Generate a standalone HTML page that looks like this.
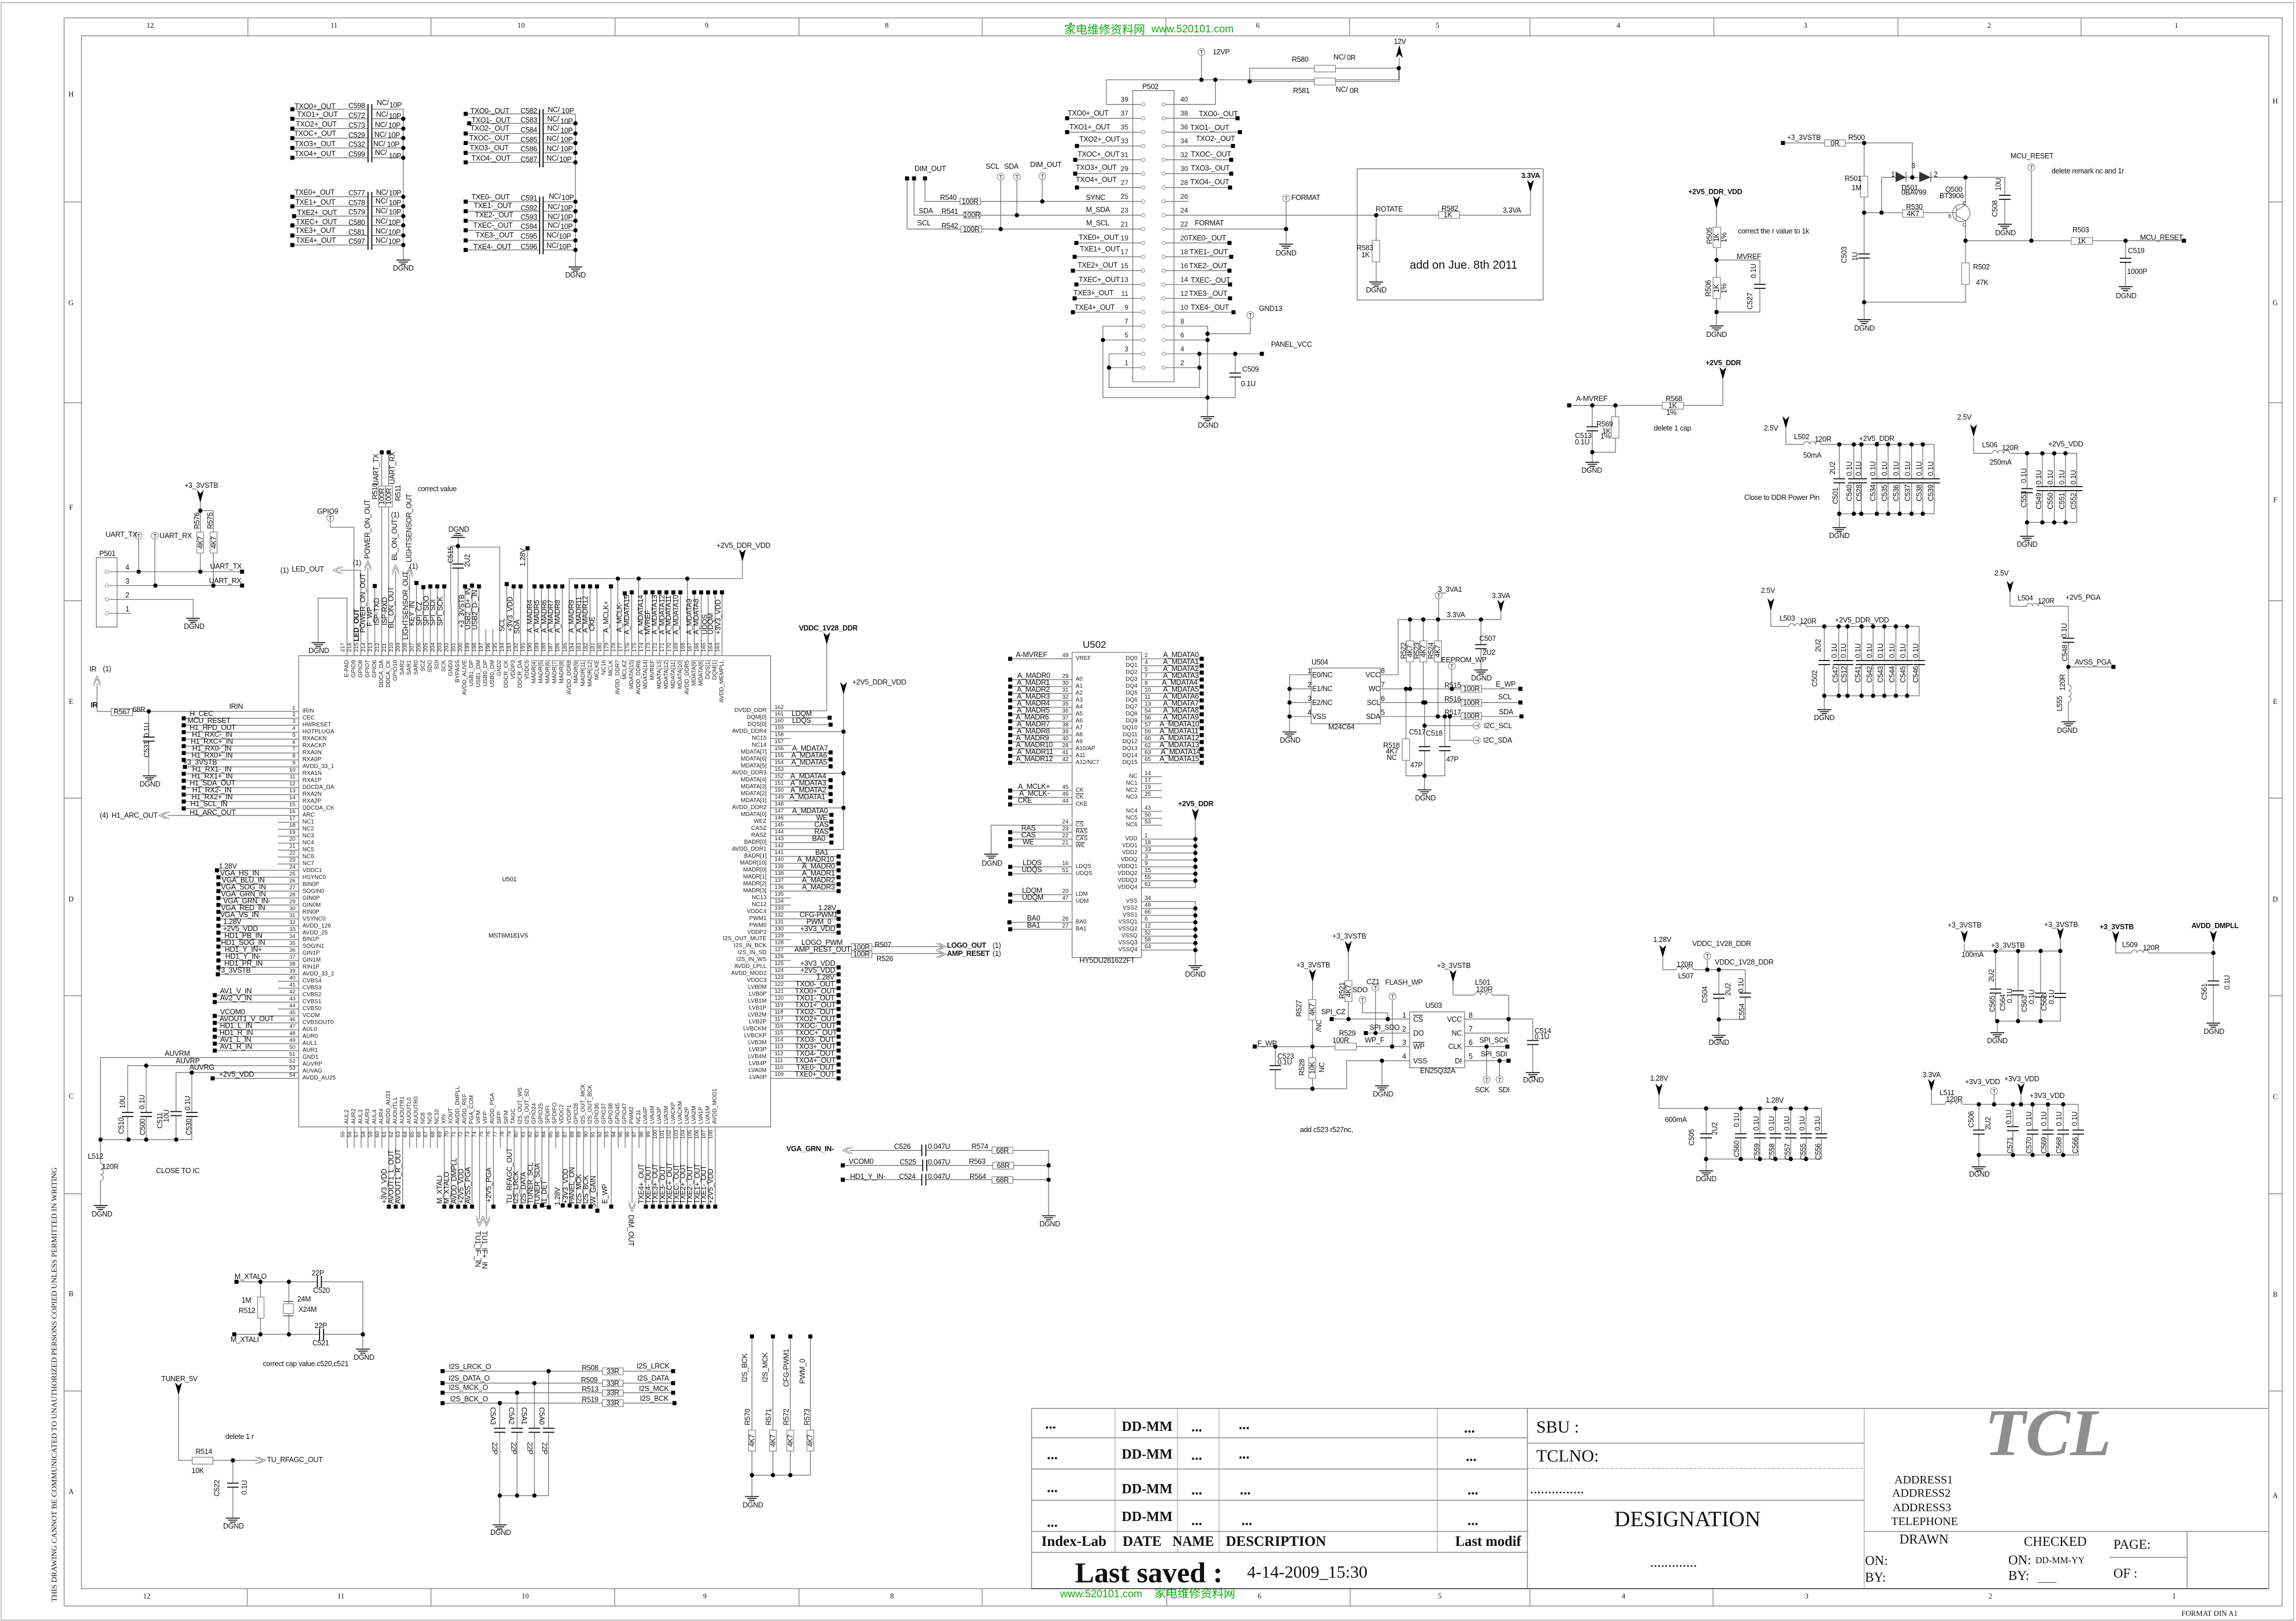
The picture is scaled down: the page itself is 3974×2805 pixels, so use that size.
<!DOCTYPE html>
<html><head><meta charset="utf-8"><title>Schematic</title>
<style>
html,body{margin:0;padding:0;background:#fff}
#w{position:relative;width:3974px;height:2805px;overflow:hidden;background:#fff}
svg{position:absolute;left:0;top:0}
text{font:12.5px "Liberation Sans",sans-serif;fill:#111;letter-spacing:-.3px}
.c{text-anchor:middle}.e{text-anchor:end}
.f{font-family:"Liberation Serif",serif;letter-spacing:0}
.b{font-weight:bold}
.W{fill:none;stroke:#6a6a6a;stroke-width:1.2}
.R rect,rect.r{fill:#fff;stroke:#777;stroke-width:1.1}
.D{fill:none;stroke:#000;stroke-width:7.4;stroke-linecap:round}
.S{fill:none;stroke:#000;stroke-width:7;stroke-linecap:square}
.p{position:absolute;white-space:pre;font:10px "Liberation Sans",sans-serif;color:#222}
.rt{transform-origin:0 0;transform:rotate(-90deg)}
.o{text-decoration:overline}
</style></head><body><div id="w">
<svg width="3974" height="2805" viewBox="0 0 3974 2805" xmlns="http://www.w3.org/2000/svg">
<defs>
<g id="g"><path d="M-12 0h24M-8 3.5h16M-4.500 7h9" stroke="#222" stroke-width="1.7" fill="none"/></g>
<path id="a" d="M-6 0L0 6L6 0L0 22Z" fill="#000"/>
<g id="t"><circle r="6" fill="#fff" stroke="#777"/><text class="c" y="4" style="font-size:10px">T</text></g>
<g id="ch"><rect x="-10" y="-3.5" width="20" height="7" fill="#fff"/><path d="M-10-3.500h20M-10 3.500h20" stroke="#111" stroke-width="1.8"/></g>
<g id="cv"><rect x="-3.5" y="-10" width="7" height="20" fill="#fff"/><path d="M-3.500-10v20M3.500-10v20" stroke="#111" stroke-width="1.800"/></g>
<g id="cl"><path d="M0 0L13-6M0 0L13 6M5 0L18-6M5 0L18 6" stroke="#777" fill="none"/></g>
<g id="li"><rect x="-15" y="-3" width="30" height="6" fill="#fff"/><path d="M-15 0a5 5 0 0 1 10 0a5 5 0 0 1 10 0a5 5 0 0 1 10 0" stroke="#666" fill="none"/></g>
<path id="pc" d="M1978.600 180.600h0M2014 180.600h0M1978.600 204.600h0M2014 204.600h0M1978.600 228.600h0M2014 228.600h0M1978.600 252.600h0M2014 252.600h0M1978.600 276.500h0M2014 276.500h0M1978.600 300.500h0M2014 300.500h0M1978.600 324.500h0M2014 324.500h0M1978.600 348.500h0M2014 348.500h0M1978.600 372.400h0M2014 372.400h0M1978.600 396.400h0M2014 396.400h0M1978.600 420.400h0M2014 420.400h0M1978.600 444.400h0M2014 444.400h0M1978.600 468.400h0M2014 468.400h0M1978.600 492.300h0M2014 492.300h0M1978.600 516.300h0M2014 516.300h0M1978.600 540.300h0M2014 540.300h0M1978.600 564.300h0M2014 564.300h0M1978.600 588.300h0M2014 588.300h0M1978.600 612.200h0M2014 612.200h0M1978.600 636.200h0M2014 636.200h0M185 989.300h0M185 1013.300h0M185 1037.300h0M185 1061.300h0"/>
</defs>

<!-- frame -->
<path fill="none" stroke="#999" stroke-width="1.2" d="M2 4.500H3970V2803.500H2Z"/>
<path fill="none" stroke="#777" stroke-width="1.200" d="M111 31H3950V2779H111ZM141 62H3927V2749H141ZM429 31V62M746 31V62M1064.600 31V62M1383 31V62M1700 31V62M2018 31V62M2336 31V62M2648 31V62M2966.500 31V62M3285 31V62M3602 31V62M428 2749V2779M746 2749V2779M1064 2749V2779M1383 2749V2779M1700 2749V2779M2019.500 2749V2779M2337 2749V2779M2648 2749V2779M2965 2749V2779M111 349.500H141M111 697H141M111 1039.500H141M111 1381H141M111 1723H141M111 2065.600H141M111 2407H141M3927 349.500H3950M3927 697H3950M3927 1039.500H3950M3927 1381H3950M3927 1723H3950M3927 2065.600H3950M3927 2407H3950"/>
<g class="f c" style="text-anchor:middle">
<text class="f c" x="260" y="48">12</text><text class="f c" x="578" y="48">11</text><text class="f c" x="902" y="48">10</text><text class="f c" x="1223" y="48">9</text><text class="f c" x="1535" y="48">8</text><text class="f c" x="1853" y="48">7</text><text class="f c" x="2177" y="48">6</text><text class="f c" x="2488" y="48">5</text><text class="f c" x="2801" y="48">4</text><text class="f c" x="3125" y="48">3</text><text class="f c" x="3443" y="48">2</text><text class="f c" x="3767" y="48">1</text>
<text class="f c" x="254" y="2766">12</text><text class="f c" x="590" y="2766">11</text><text class="f c" x="909" y="2766">10</text><text class="f c" x="1220" y="2766">9</text><text class="f c" x="1544" y="2766">8</text><text class="f c" x="2180" y="2766">6</text><text class="f c" x="2492" y="2766">5</text><text class="f c" x="2810" y="2766">4</text><text class="f c" x="3127" y="2766">3</text><text class="f c" x="3445" y="2766">2</text><text class="f c" x="3763" y="2766">1</text>
<text class="f c" x="123" y="167">H</text><text class="f c" x="123" y="528">G</text><text class="f c" x="123" y="882">F</text><text class="f c" x="123" y="1218">E</text><text class="f c" x="123" y="1560">D</text><text class="f c" x="123" y="1901">C</text><text class="f c" x="123" y="2243">B</text><text class="f c" x="123" y="2585">A</text>
<text class="f c" x="3938" y="179">H</text><text class="f c" x="3938" y="528">G</text><text class="f c" x="3938" y="869">F</text><text class="f c" x="3938" y="1218">E</text><text class="f c" x="3938" y="1560">D</text><text class="f c" x="3938" y="1902">C</text><text class="f c" x="3938" y="2244">B</text><text class="f c" x="3938" y="2592">A</text>
</g>
<text class="f" transform="translate(98 2772) rotate(-90)" textLength="752" lengthAdjust="spacingAndGlyphs">THIS DRAWING CANNOT BE COMMUNICATED TO UNAUTHORIZED PERSONS COPIED UNLESS PERMITTED IN WRITING</text>
<text x="1842" y="58" style="font:20px 'Noto Sans CJK SC',sans-serif;fill:#12a812;letter-spacing:0">家电维修资料网</text><text x="1993" y="56" style="font-size:18px;fill:#12a812;letter-spacing:0">www.520101.com</text>
<text x="1835" y="2764" style="font-size:18px;fill:#12a812;letter-spacing:0">www.520101.com</text><text x="1998" y="2764" style="font:20px 'Noto Sans CJK SC',sans-serif;fill:#12a812;letter-spacing:0">家电维修资料网</text>

<!-- wires -->
<g class="W">
<!-- TX caps -->
<path d="M506 189H698V450M506 205.500H698M506 222.500H698M506 239H698M506 256H698M506 273H698M506 340.500H698M506 357H698M509 374H698M506 390H698M506 407.500H698M506 424H698"/>
<path d="M806 197H996V462M812 213.500H996M806 231H996M806 247.500H996M806 264.500H996M806 281H996M806 349H996M806 365.500H996M806 382H996M806 398.500H996M806 416H996M806 432.500H996"/>
<!-- P502 -->
<path d="M1960.700 156.600H2032V660.700H1960.700Z"/>
<path d="M1915 138H2422V100M1915 138V180.600H1975M2017 180.600H2103.600V138M2079.500 90V138M2163 141V118H2421V141H2163"/>
<path d="M1847 204.600H1975M1847 228.600H1975M1864 252.600H1975M1861 276.500H1975M1861 300.500H1975M1864 324.500H1975M1601 308.700V348.500H1975M1582 308.700V372.400H1975M1570 308.700V396.400H1975M1863 420.400H1975M1860 444.400H1975M1857 468.400H1975M1863 492.300H1975M1860 516.300H1975M1857 540.300H1975M1909 564.300H1975M1909 588.300H1975M1919.600 612.200H1975M1919.600 636.200H1975"/>
<path d="M2017 204.600H2142M2017 228.600H2146M2017 252.600H2134M2017 276.500H2131M2017 300.500H2131M2017 324.500H2129M2017 348.500H2057M2017 372.400H2382M2017 396.400H2226M2017 420.400H2128M2017 444.400H2131M2017 468.400H2128M2017 492.300H2129M2017 516.300H2129M2017 540.300H2135M2017 564.300H2090V721M2017 588.300H2090M2017 612.200H2184M2017 636.200H2076M2076 612.200V670.400H1919.600V612.200M1909 564.300V688H2138V612.200M2090 577.500H2164V545"/>
<path d="M1732 306V396.400M1760 306V372.400M1804 304.600V348.500M2226 343V422.500M2382 372.400H2649V333M2382 372.400V488"/>
<path d="M2349 292H2671V519H2349Z"/>
<!-- MCU reset -->
<path d="M3086 247.400H3310V307M3226.500 247.400V553M3226.500 368H3386M3256.600 368V307H3402M3226.500 523H3402V382M3402 307V355M3402 307H3470V388M3402 416.500H3780M3516 289.500V416.500M3679 416.500V496"/>
<path d="M3386 358V379M3386 364L3402 355M3386 373L3402 382"/>
<circle cx="3394.700" cy="368.600" r="15"/>
<!-- ddr vdd -->
<path d="M2971 361V564M2971 450H3046V540H2971M2982 657V701.500H2716M2756 701.500V800M2796 701.500V782.500H2756"/>
<!-- L502 -->
<path d="M3091 742V769H3347.600V889H3183.500M3183.500 769V913M3208.700 769V889M3221.600 769V889M3248.500 769V889M3268 769V889M3288 769V889M3308.600 769V889M3328 769V889"/>
<path d="M3416 757V784.400H3594.600V904H3508.500M3508.500 784.400V928M3535 784.400V904M3555.600 784.400V904M3575 784.400V904"/>
<path d="M3065 1056V1084H3321.700V1204H3157.500M3157.500 1084V1228M3182.600 1084V1204M3197.700 1084V1204M3222 1084V1204M3242 1084V1204M3261.500 1084V1204M3281.500 1084V1204M3301 1084V1204"/>
<path d="M3479 1027V1049H3580V1249M3580 1154H3658"/>
<!-- P501 -->
<path d="M166.700 965H202.700V1085H166.700Z"/>
<path d="M189 989.300H419M189 1013.300H419M189 1037.300H334.300V1070M189 1061.300H226.700M240 927V989.300M268 927V1013.300M346.700 869V989.300M346.700 883.700H369.300V1013.300"/>
<!-- U501 -->
<path d="M517 1134.600H1333.700V1950H517Z"/>
<path d="M517 1231H168V1182M257.500 1231V1342.500M517 1243H318M517 1255H318M517 1267H318M517 1279H318M517 1291H318M517 1303H318M517 1315H318M517 1327H320M517 1339H318M517 1351H318M517 1363H318M517 1375H318M517 1387H318M517 1399H318M517 1411H290M517 1423H481M517 1435H481M517 1447H481M517 1459H481M517 1471H481M517 1483H481M517 1495H481M517 1506H375.500M517 1518H378M517 1530H378M517 1542H378M517 1554H378M517 1566H378M517 1578H378M517 1590H378M517 1602H378M517 1614H378M517 1626H378M517 1638H378M517 1650H378M517 1662H378M517 1674H378M517 1686H377M517 1698H481M517 1710H481M517 1722H371.700M517 1734H371.700M517 1746H481M517 1758H371.700M517 1770H371.700M517 1782H371.700M517 1794H371.700M517 1806H371.700M517 1818H371.700M517 1830H174V2086M517 1844H221V1972M253 1844V1972M517 1856H304.700V1972M332 1856V1972M174 1972H332M517 1866H368"/>
<!-- top stubs -->
<path d="M600.600 1134.600V1035H550.700V1112M612.600 1134.600V912.300H571.700V896M624.600 1134.600V986.700H589M636.700 1134.600V982M648.700 1134.600V1014M660.700 1134.600V782.700M672.700 1134.600V782.700M684.700 1134.600V988M696.800 1134.600V1089M708.800 1134.600V993M720.800 1134.600V1008.700M732.800 1134.600V1016M744.800 1134.600V1014.700M756.900 1134.600V1014.700M768.900 1134.600V1014.700M780.900 1134.600V1046.700L780 1045V945H792.700M792.900 1134.600V930M804.900 1134.600V1014.700M817 1134.600V1013.300M829 1134.600V1014.700M841 1134.600V1089M853 1134.600V1089M865 1134.600V946.700H792.700M877.100 1134.600V1010.700M889.100 1134.600V1014.700M901.100 1134.600V1014.700M913.100 1134.600V948.700M925.100 1134.600V1014.700M937.200 1134.600V1014.700M949.200 1134.600V1014.700M961.200 1134.600V1014.700M973.200 1134.600V1014.700M985.200 1134.600V1001.300H1285V972M997.300 1134.600V1014.700M1009.300 1134.600V1014.700M1021.300 1134.600V1014.700M1033.300 1134.600V1014.700M1045.300 1134.600V1089M1057.400 1134.600V1014.700M1069.400 1134.600V1001.300M1081.400 1134.600V1026.700M1093.400 1134.600V1025M1105.400 1134.600V1001.300M1117.500 1134.600V1025M1129.500 1134.600V1025M1141.500 1134.600V1025M1153.500 1134.600V1025M1165.500 1134.600V1025M1177.600 1134.600V1025M1189.600 1134.600V1001.300M1201.600 1134.600V1025M1213.600 1134.600V1025M1225.600 1134.600V1025M1237.700 1134.600V1025M1249.700 1134.600V1025"/>
<!-- bottom stubs -->
<path d="M601 1950V1986.500M613 1950V1986.500M625 1950V1986.500M637 1950V1986.500M649 1950V1986.500M661 1950V1986.500M673 1950V2088M685 1950V2088M697 1950V2088M709 1950V1986.500M721 1950V1986.500M733 1950V1986.500M745 1950V1986.500M757 1950V1986.500M769 1950V2088M781 1950V2088M793 1950V2088M805 1950V2088M817 1950V2088M830 1950V2110M842 1950V2110M854 1950V2088M866 1950V1986.500M878 1950V1986.500M890 1950V2088M902 1950V2088M914 1950V2088M926 1950V2088M938 1950V2088M950 1950V2088M962 1950V1986.500M974 1950V2088M986 1950V2088M998 1950V2088M1010 1950V2088M1022 1950V2088M1034 1950V2095M1046 1950V1986.500M1058 1950V2088M1070 1950V1986.500M1082 1950V1986.500M1094 1950V2082M1106 1950V1986.500M1118 1950V2088M1130 1950V2088M1142 1950V2088M1154 1950V2088M1166 1950V2088M1178 1950V2088M1190 1950V2088M1202 1950V2088M1214 1950V2088M1226 1950V2088M1238 1950V2088"/>
<!-- right stubs -->
<path d="M1333.700 1230H1431V1115M1333.700 1242H1436M1333.700 1254H1437.700M1333.700 1266H1460M1333.700 1278H1369M1333.700 1290H1369M1333.700 1302H1437.700M1333.700 1314H1437.700M1333.700 1326H1437.700M1333.700 1338H1460M1333.700 1350H1437.700M1333.700 1362H1437.700M1333.700 1374H1437.700M1333.700 1386H1437.700M1333.700 1398H1460M1333.700 1410H1439M1333.700 1422H1439M1333.700 1434H1439M1333.700 1446H1439M1333.700 1458H1439M1333.700 1470H1460V1202M1333.700 1482H1451.500M1333.700 1494H1451.500M1333.700 1506H1451.500M1333.700 1518H1451.500M1333.700 1530H1451.500M1333.700 1542H1451.500M1333.700 1554H1369M1333.700 1566H1369M1333.700 1578H1451.500M1333.700 1590H1451.500M1333.700 1602H1451.500M1333.700 1614H1451.500M1333.700 1626H1369M1333.700 1638H1630M1333.700 1650H1630M1333.700 1662H1369M1333.700 1674H1451.500M1333.700 1686H1451.500M1333.700 1698H1451.500M1333.700 1710H1451.500M1333.700 1722H1451.500M1333.700 1734H1451.500M1333.700 1746H1451.500M1333.700 1758H1451.500M1333.700 1770H1451.500M1333.700 1782H1451.500M1333.700 1794H1451.500M1333.700 1806H1451.500M1333.700 1818H1451.500M1333.700 1830H1451.500M1333.700 1842H1451.500M1333.700 1854H1451.500M1333.700 1866H1451.500"/>
<!-- U502 -->
<path d="M1855.600 1128.800H1975.700V1657H1855.600Z"/>
<path d="M1855.600 1140H1748.500M1855.600 1176H1748.500M1855.600 1188H1748.500M1855.600 1200H1748.500M1855.600 1212H1748.500M1855.600 1224H1748.500M1855.600 1236H1748.500M1855.600 1248H1748.500M1855.600 1260H1748.500M1855.600 1272H1748.500M1855.600 1284H1748.500M1855.600 1296H1748.500M1855.600 1308H1748.500M1855.600 1320H1748.500M1855.600 1368H1748.500M1855.600 1380H1748.500M1855.600 1392H1748.500M1855.600 1428H1715.500V1478M1855.600 1440H1748.500M1855.600 1452H1748.500M1855.600 1464H1748.500M1855.600 1500H1748.500M1855.600 1512H1748.500M1855.600 1548H1748.500M1855.600 1560H1748.500M1855.600 1596H1747M1855.600 1608H1748.500"/>
<path d="M1975.700 1140H2080M1975.700 1152H2080M1975.700 1164H2080M1975.700 1176H2080M1975.700 1188H2080M1975.700 1200H2080M1975.700 1212H2080M1975.700 1224H2080M1975.700 1236H2080M1975.700 1248H2080M1975.700 1260H2080M1975.700 1272H2080M1975.700 1284H2080M1975.700 1296H2080M1975.700 1308H2080M1975.700 1320H2080M1975.700 1344H2011M1975.700 1356H2011M1975.700 1368H2011M1975.700 1380H2011M1975.700 1404H2011M1975.700 1416H2011M1975.700 1428H2011M1975.700 1452H2069M1975.700 1464H2069M1975.700 1476H2069M1975.700 1488H2069M1975.700 1500H2069M1975.700 1512H2069M1975.700 1524H2069M1975.700 1536H2069V1420M1975.700 1560H2069V1671M1975.700 1572H2069M1975.700 1584H2069M1975.700 1596H2069M1975.700 1608H2069M1975.700 1620H2069M1975.700 1632H2069M1975.700 1644H2069"/>
<!-- U504 -->
<path d="M2269.400 1156H2389.400V1252.500H2269.400Z"/>
<path d="M2269.400 1167.700H2232V1266.600M2269.400 1192H2232M2269.400 1215.600H2232M2269.400 1239.800H2232M2389.400 1167.700H2420V1072H2597.800V1060M2440.500 1072V1192M2463.400 1072V1215.600M2489 1072V1239.800M2490 1030V1072M2563.300 1072V1159.400M2389.400 1192H2631.600M2389.400 1215.600H2631.600M2389.400 1239.800H2633.400M2512.800 1152.400V1192M2433.600 1192V1342.500H2500.800V1239.800M2465.700 1215.600V1366.700M2465.700 1255.700H2555.900M2509.400 1239.800V1281H2555.900"/>
<!-- U503 -->
<path d="M2440 1751H2535V1847.600H2440Z"/>
<path d="M2440 1763.400H2305M2333.700 1648V1763.400M2358.400 1730V1752.600H2402V1763.400M2380.800 1709V1787.600M2440 1787.600H2364M2410 1724V1811M2440 1811H2171.800M2271.700 1698V1884M2207.400 1811V1884H2330.800V1835.500H2440M2392 1835.500V1879M2535 1763.400H2653V1856M2611.500 1722V1787.600H2535M2515 1699V1722H2611.500M2535 1811H2609M2535 1835.500H2611M2573 1811V1868M2595.500 1835.500V1868"/>
<!-- right column -->
<path d="M2878 1656V1678H3020.600V1764H2975M2955 1654V1678M2975 1678V1791.600M2871.500 1897V1918H3152.500V2005.600H2953M2953 1918V2026M3013 1918V2005.600M3046 1918V2005.600M3073 1918V2005.600M3099.500 1918V2005.600M3126 1918V2005.600"/>
<path d="M3400 1633V1645.600H3566V1627M3454 1645.600V1767M3493 1645.600V1767M3532 1645.600V1767M3566 1645.600V1767H3457V1787M3662 1633V1649H3831V1770.500M3831 1633V1649"/>
<path d="M3343 1889V1911H3597V1998.600H3425M3425 1911V2019M3451.400 1888V1911M3484 1911V1998.600M3498 1896V1911M3518 1911V1998.600M3544.600 1911V1998.600M3571 1911V1998.600"/>
<!-- misc -->
<path d="M1471 1990.600H1815V2103.700M1458.700 2016.600H1815M1458.700 2041.400H1815"/>
<path d="M766 2372.600H1165M766 2393.400H1165M766 2410H1165M766 2428H1167.400M949.500 2372.600V2588H865M925 2393.400V2588M895 2410V2588M865 2428V2638.600"/>
<path d="M1301.500 2312.600V2589.600M1337.800 2312.600V2552.600M1367.900 2312.600V2552.600M1402.600 2312.600V2552.600H1301.500"/>
<path d="M409.300 2218H628V2334.500M405.500 2309H628M450.800 2218V2309M500 2218V2309"/>
<path d="M309 2413V2527H446M403 2527V2627"/>
</g>
<path d="M637 180V281M643.500 180V281M637 332V432M643.500 332V432M934 189V289.500M940 189V289.500M934 340V440M940 340V440" stroke="#222" stroke-width="2" fill="none"/>
<rect x="638" y="180" width="4.500" height="101" fill="#fff"/><rect x="638" y="332" width="4.500" height="100" fill="#fff"/><rect x="935" y="189" width="4" height="100.500" fill="#fff"/><rect x="935" y="340" width="4" height="100" fill="#fff"/>
<use href="#pc" fill="none" stroke="#888" stroke-width="7" stroke-linecap="round"/><use href="#pc" fill="none" stroke="#fff" stroke-width="5" stroke-linecap="round"/>
<path d="M3281 297L3299 307L3281 315ZM3322 297L3342 307L3322 315Z" fill="#333"/>
<path d="M3299 297V315M3342 297V315" stroke="#333"/>

<!-- resistors -->
<g class="R">
<rect x="2275" y="113" width="36.600" height="11.500"/><rect x="2275" y="135" width="36.600" height="12"/>
<rect x="1661.600" y="343" width="35.400" height="11"/><rect x="1668" y="366.500" width="29" height="11"/><rect x="1663" y="391" width="36" height="11"/>
<rect x="2490" y="366" width="36" height="12"/><rect x="2375" y="416" width="13" height="37"/>
<rect x="3158" y="242" width="36" height="11"/><rect x="3220" y="305" width="13" height="36"/><rect x="3293" y="363" width="36" height="13"/><rect x="3395.500" y="455" width="13" height="37"/><rect x="3585" y="411" width="37" height="12"/>
<rect x="2965" y="393" width="13" height="35.500"/><rect x="2965" y="480" width="13" height="36.500"/><rect x="2877" y="696" width="37" height="12"/><rect x="2789" y="721" width="13" height="37"/>
<rect x="340.700" y="920.700" width="11.600" height="36.300"/><rect x="363.700" y="920.700" width="12" height="36.300"/>
<rect x="655.300" y="841" width="12" height="36.300"/><rect x="667.300" y="841" width="12" height="36.300"/>
<rect x="192.500" y="1226" width="37" height="12.500"/>
<rect x="1473.700" y="1632.600" width="35.300" height="12.400"/><rect x="1473.700" y="1645.400" width="35.300" height="11.600"/>
<rect x="1717" y="1985" width="36" height="11"/><rect x="1718.400" y="2011" width="36.200" height="12"/><rect x="1717" y="2036" width="36" height="11.500"/>
<rect x="1042.600" y="2367" width="36" height="12"/><rect x="1042.600" y="2388" width="36" height="11.500"/><rect x="1042.600" y="2405" width="36" height="11"/><rect x="1042.600" y="2422" width="36" height="12"/>
<rect x="1295.500" y="2474.700" width="12" height="36.300"/><rect x="1331.800" y="2474.700" width="12" height="36.300"/><rect x="1361.900" y="2474.700" width="12" height="36.300"/><rect x="1396.600" y="2474.700" width="12" height="36.300"/>
<rect x="445.700" y="2244.500" width="11.300" height="36.500"/><rect x="490.300" y="2256" width="17.700" height="17"/>
<rect x="332.800" y="2521.500" width="35.700" height="12"/>
<rect x="2434" y="1109" width="13" height="36.400"/><rect x="2457.700" y="1109" width="12" height="36.400"/><rect x="2482.400" y="1109" width="12.600" height="36.400"/><rect x="2427" y="1278.700" width="12.900" height="37"/>
<rect x="2529" y="1186" width="35.500" height="12"/><rect x="2529" y="1210" width="35.500" height="12"/><rect x="2529" y="1233" width="35.500" height="12"/>
<rect x="2328" y="1697" width="12" height="36.400"/><rect x="2265.400" y="1729.600" width="12" height="35.400"/><rect x="2265.400" y="1830" width="12" height="36"/><rect x="2311" y="1805" width="36.500" height="12"/>
</g>
<path d="M490.300 2252h17.700M490.300 2277h17.700" stroke="#555" stroke-width="1.500"/>

<!-- capacitors -->
<g>
<use href="#ch" x="2138" y="649"/><use href="#ch" x="3226.500" y="443"/><use href="#ch" x="3470" y="341.500"/><use href="#ch" x="3679" y="450.500"/><use href="#ch" x="3046" y="495.500"/><use href="#ch" x="2756" y="742"/>
<use href="#ch" x="3183.500" y="832"/><use href="#ch" x="3208.700" y="832"/><use href="#ch" x="3221.600" y="832"/><use href="#ch" x="3248.500" y="832"/><use href="#ch" x="3268" y="832"/><use href="#ch" x="3288" y="832"/><use href="#ch" x="3308.600" y="832"/><use href="#ch" x="3328" y="832"/><use href="#ch" x="3347.600" y="832"/>
<use href="#ch" x="3508.500" y="849"/><use href="#ch" x="3535" y="845.500"/><use href="#ch" x="3555.600" y="845.500"/><use href="#ch" x="3575" y="845.500"/><use href="#ch" x="3594.600" y="845.500"/>
<use href="#ch" x="3157.500" y="1146.500"/><use href="#ch" x="3182.600" y="1146.500"/><use href="#ch" x="3197.700" y="1146.500"/><use href="#ch" x="3222" y="1146.500"/><use href="#ch" x="3242" y="1146.500"/><use href="#ch" x="3261.500" y="1146.500"/><use href="#ch" x="3281.500" y="1146.500"/><use href="#ch" x="3301" y="1146.500"/><use href="#ch" x="3321.700" y="1146.500"/>
<use href="#ch" x="3580" y="1108"/><use href="#ch" x="257.500" y="1279"/><use href="#ch" x="221" y="1928.500"/><use href="#ch" x="253" y="1928.500"/><use href="#ch" x="304.700" y="1927"/><use href="#ch" x="332" y="1928.500"/><use href="#ch" x="792.700" y="979.500"/>
<use href="#ch" x="2563.300" y="1119"/><use href="#ch" x="2465.700" y="1295.500"/><use href="#ch" x="2500.800" y="1295.500"/><use href="#ch" x="2207.400" y="1847.500"/><use href="#ch" x="2653" y="1804"/><use href="#ch" x="2975" y="1724"/><use href="#ch" x="3020.600" y="1722"/>
<use href="#ch" x="2953" y="1965.500"/><use href="#ch" x="3013" y="1965.500"/><use href="#ch" x="3046" y="1965.500"/><use href="#ch" x="3073" y="1965.500"/><use href="#ch" x="3099.500" y="1965.500"/><use href="#ch" x="3126" y="1965.500"/><use href="#ch" x="3152.500" y="1965.500"/>
<use href="#ch" x="3454" y="1715"/><use href="#ch" x="3493" y="1718"/><use href="#ch" x="3532" y="1722"/><use href="#ch" x="3566" y="1722.500"/><use href="#ch" x="3831" y="1701"/>
<use href="#ch" x="3425" y="1959"/><use href="#ch" x="3484" y="1953"/><use href="#ch" x="3518" y="1959"/><use href="#ch" x="3544.600" y="1959"/><use href="#ch" x="3571" y="1959"/><use href="#ch" x="3597" y="1959"/>
<use href="#ch" x="865" y="2475"/><use href="#ch" x="895" y="2475"/><use href="#ch" x="925" y="2475"/><use href="#ch" x="949.500" y="2475"/><use href="#ch" x="403" y="2570"/>
<use href="#cv" x="552.800" y="2218"/><use href="#cv" x="556.600" y="2309"/><use href="#cv" x="1599" y="1990.600"/><use href="#cv" x="1600.500" y="2016.600"/><use href="#cv" x="1599" y="2041.400"/>
<use href="#li" x="3137" y="769"/><use href="#li" x="3463" y="784.400"/><use href="#li" x="3111" y="1084"/><use href="#li" x="3523" y="1049"/><use href="#li" x="2916" y="1678"/><use href="#li" x="3381.500" y="1911"/><use href="#li" x="3704" y="1649"/><use href="#li" x="2567.600" y="1722"/>
<use href="#li" transform="translate(174 2028) rotate(90)"/><use href="#li" transform="translate(3580 1200) rotate(90)"/>
</g>

<!-- dots -->
<path class="D" d="M698 205.500h0M698 222.500h0M698 239h0M698 256h0M698 273h0M698 340.500h0M698 357h0M698 374h0M698 390h0M698 407.500h0M698 424h0M996 213.500h0M996 231h0M996 247.500h0M996 264.500h0M996 281h0M996 349h0M996 365.500h0M996 382h0M996 398.500h0M996 416h0M996 432.500h0M2079.500 138h0M2103.600 138h0M2163 141h0M2421 118h0M1804 348.500h0M1760 372.400h0M1732 396.400h0M2382 372.400h0M2226 396.400h0M2090 577.500h0M2090 588.300h0M2090 688h0M1909 588.300h0M1919.600 636.200h0M2076 612.200h0M2076 636.200h0M2138 612.200h0M3226.500 247.400h0M3226.500 368h0M3256.600 368h0M3310 307h0M3402 307h0M3402 416.500h0M3226.500 523h0M3516 416.500h0M3679 416.500h0M2971 450h0M2971 540h0M2756 701.500h0M2796 701.500h0M2756 782.500h0M3183.500 769h0M3208.700 769h0M3221.600 769h0M3248.500 769h0M3268 769h0M3288 769h0M3308.600 769h0M3328 769h0M3183.500 889h0M3208.700 889h0M3221.600 889h0M3248.500 889h0M3268 889h0M3288 889h0M3308.600 889h0M3328 889h0M3508.500 784.400h0M3535 784.400h0M3555.600 784.400h0M3575 784.400h0M3508.500 904h0M3535 904h0M3555.600 904h0M3575 904h0M3157.500 1084h0M3182.600 1084h0M3197.700 1084h0M3222 1084h0M3242 1084h0M3261.500 1084h0M3281.500 1084h0M3301 1084h0M3157.500 1204h0M3182.600 1204h0M3197.700 1204h0M3222 1204h0M3242 1204h0M3261.500 1204h0M3281.500 1204h0M3301 1204h0M3580 1154h0M240 989.300h0M346.700 989.300h0M346.700 883.700h0M269 1013.300h0M369.300 1013.300h0M257.500 1231h0M174 1972h0M222.400 1972h0M253 1972h0M305 1972h0M253 1844h0M332 1856h0M792.700 945h0M1069.400 1001.300h0M1105.400 1001.300h0M1189.600 1001.300h0M1460 1266h0M1460 1338h0M1460 1398h0M2069 1452h0M2069 1464h0M2069 1476h0M2069 1488h0M2069 1500h0M2069 1512h0M2069 1524h0M2069 1572h0M2069 1584h0M2069 1596h0M2069 1608h0M2069 1620h0M2069 1632h0M2069 1644h0M2232 1192h0M2232 1215.600h0M2232 1239.800h0M2440.500 1072h0M2463.400 1072h0M2489 1072h0M2563.300 1072h0M2433.600 1192h0M2440.500 1192h0M2512.800 1192h0M2463.400 1215.600h0M2467 1215.600h0M2488.700 1239.800h0M2500.800 1239.800h0M2509.400 1239.800h0M2465.700 1255.700h0M2465.700 1342.500h0M2334 1763.400h0M2402 1763.400h0M2380.800 1787.600h0M2409.500 1811h0M2271.700 1811h0M2207.400 1811h0M2271.700 1884h0M2392 1835.500h0M2611 1763.400h0M2573 1811h0M2595.500 1835.500h0M2955 1678h0M2975 1678h0M2975 1764h0M2953 1918h0M3013 1918h0M3046 1918h0M3073 1918h0M3099.500 1918h0M3126 1918h0M2953 2005.600h0M3013 2005.600h0M3046 2005.600h0M3073 2005.600h0M3099.500 2005.600h0M3126 2005.600h0M3454 1645.600h0M3493 1645.600h0M3532 1645.600h0M3566 1645.600h0M3457 1767h0M3493 1767h0M3532 1767h0M3831 1649h0M3425 1911h0M3451.400 1911h0M3484 1911h0M3498 1911h0M3518 1911h0M3544.600 1911h0M3571 1911h0M3425 1998.600h0M3484 1998.600h0M3518 1998.600h0M3544.600 1998.600h0M3571 1998.600h0M1815 2016.600h0M1815 2041.400h0M949.500 2372.600h0M925 2393.400h0M895 2410h0M865 2428h0M865 2588h0M895 2588h0M925 2588h0M1301.500 2552.600h0M1337.800 2552.600h0M1367.900 2552.600h0M450.800 2218h0M500 2218h0M450.800 2309h0M500 2309h0M628 2309h0M403 2527h0"/>
<!-- squares -->
<path class="S" d="M506 189h0M506 205.500h0M506 222.500h0M506 239h0M506 256h0M506 273h0M506 340.500h0M506 357h0M509 374h0M506 390h0M506 407.500h0M506 424h0M806 197h0M812 213.500h0M806 231h0M806 247.500h0M806 264.500h0M806 281h0M806 349h0M806 365.500h0M806 382h0M806 398.500h0M806 416h0M806 432.500h0M1847 204.600h0M1847 228.600h0M1864 252.600h0M1861 276.500h0M1861 300.500h0M1864 324.500h0M1863 420.400h0M1860 444.400h0M1857 468.400h0M1863 492.300h0M1860 516.300h0M1857 540.300h0M2142 204.600h0M2146 228.600h0M2134 252.600h0M2131 276.500h0M2131 300.500h0M2129 324.500h0M2128 420.400h0M2131 444.400h0M2128 468.400h0M2129 492.300h0M2129 516.300h0M2135 540.300h0M1601 308.700h0M1582 308.700h0M1570 308.700h0M2184 612.200h0M3086 247.400h0M3780 416.500h0M2716 701.500h0M3658 1154h0M419 989.300h0M419 1013.300h0M660.700 782.700h0M672.700 782.700h0M648.700 1014h0M720.800 1008.700h0M732.800 1016h0M744.800 1014.700h0M756.900 1014.700h0M768.900 1014.700h0M804.900 1014.700h0M817 1013.300h0M829 1014.700h0M877.100 1010.700h0M889.100 1014.700h0M901.100 1014.700h0M913.100 948.700h0M925.100 1014.700h0M937.200 1014.700h0M949.200 1014.700h0M961.200 1014.700h0M973.200 1014.700h0M997.300 1014.700h0M1009.300 1014.700h0M1021.300 1014.700h0M1033.300 1014.700h0M1057.400 1014.700h0M1081.400 1026.700h0M1093.400 1025h0M1117.500 1025h0M1129.500 1025h0M1141.500 1025h0M1153.500 1025h0M1165.500 1025h0M1177.600 1025h0M1201.600 1025h0M1213.600 1025h0M1225.600 1025h0M1237.700 1025h0M1249.700 1025h0M318 1243h0M318 1255h0M318 1267h0M318 1279h0M318 1291h0M318 1303h0M318 1315h0M320 1327h0M318 1339h0M318 1351h0M318 1363h0M318 1375h0M318 1387h0M318 1399h0M375.500 1506h0M378 1518h0M378 1530h0M378 1542h0M378 1554h0M378 1566h0M378 1578h0M378 1590h0M378 1602h0M378 1614h0M378 1626h0M378 1638h0M378 1650h0M378 1662h0M378 1674h0M377 1686h0M371.700 1722h0M371.700 1734h0M371.700 1758h0M371.700 1770h0M371.700 1782h0M371.700 1794h0M371.700 1806h0M371.700 1818h0M368 1866h0M673 2088h0M685 2088h0M697 2088h0M769 2088h0M781 2088h0M793 2088h0M805 2088h0M817 2088h0M854 2088h0M890 2088h0M902 2088h0M914 2088h0M926 2088h0M938 2086h0M950 2089h0M974 2086h0M986 2086h0M998 2088h0M1010 2088h0M1022 2088h0M1034 2095h0M1058 2088h0M1118 2088h0M1130 2088h0M1142 2088h0M1154 2088h0M1166 2088h0M1178 2088h0M1190 2088h0M1202 2088h0M1214 2088h0M1226 2088h0M1238 2088h0M1436 1242h0M1437.700 1254h0M1437.700 1302h0M1437.700 1314h0M1437.700 1326h0M1437.700 1350h0M1437.700 1362h0M1437.700 1374h0M1437.700 1386h0M1439 1410h0M1439 1422h0M1439 1434h0M1439 1446h0M1439 1458h0M1451.500 1482h0M1451.500 1494h0M1451.500 1506h0M1451.500 1518h0M1451.500 1530h0M1451.500 1542h0M1451.500 1578h0M1451.500 1590h0M1451.500 1602h0M1451.500 1614h0M1451.500 1674h0M1451.500 1686h0M1451.500 1698h0M1451.500 1710h0M1451.500 1722h0M1451.500 1734h0M1451.500 1746h0M1451.500 1758h0M1451.500 1770h0M1451.500 1782h0M1451.500 1794h0M1451.500 1806h0M1451.500 1818h0M1451.500 1830h0M1451.500 1842h0M1451.500 1854h0M1451.500 1866h0M1748.500 1140h0M1748.500 1176h0M1748.500 1188h0M1748.500 1200h0M1748.500 1212h0M1748.500 1224h0M1748.500 1236h0M1748.500 1248h0M1748.500 1260h0M1748.500 1272h0M1748.500 1284h0M1748.500 1296h0M1748.500 1308h0M1748.500 1320h0M1748.500 1368h0M1748.500 1380h0M1748.500 1392h0M1748.500 1440h0M1748.500 1452h0M1748.500 1464h0M1748.500 1500h0M1748.500 1512h0M1748.500 1548h0M1748.500 1560h0M1747 1596h0M1748.500 1608h0M2080 1140h0M2080 1152h0M2080 1164h0M2080 1176h0M2080 1188h0M2080 1200h0M2080 1212h0M2080 1224h0M2080 1236h0M2080 1248h0M2080 1260h0M2080 1272h0M2080 1284h0M2080 1296h0M2080 1308h0M2080 1320h0M2631.600 1192h0M2631.600 1215.600h0M2633.400 1239.800h0M2305 1763.400h0M2364 1787.600h0M2171.800 1811h0M2609 1811h0M2611 1835.500h0M1458.700 2016.600h0M1458.700 2041.400h0M766 2372.600h0M766 2393.400h0M766 2410h0M766 2428h0M1165 2372.600h0M1165 2393.400h0M1165 2410h0M1167.400 2428h0M1301.500 2312.600h0M1337.800 2312.600h0M1367.900 2312.600h0M1402.600 2312.600h0M409.300 2218h0M405.500 2309h0"/>

<!-- grounds -->
<use href="#g" x="698" y="450"/><use href="#g" x="996" y="462"/><use href="#g" x="551" y="1112"/><use href="#g" x="334" y="1070"/><use href="#g" x="259" y="1342.500"/><use href="#g" x="174" y="2086"/><use href="#g" x="2090" y="721"/><use href="#g" x="2226" y="422.500"/><use href="#g" x="2382" y="488"/><use href="#g" x="3226.500" y="553"/><use href="#g" x="3470" y="388"/><use href="#g" x="3679" y="496"/><use href="#g" x="2971" y="564"/><use href="#g" x="2756" y="800"/><use href="#g" x="3183.500" y="913"/><use href="#g" x="3508.500" y="928"/><use href="#g" x="3157.500" y="1228"/><use href="#g" x="3580" y="1249"/><use href="#g" x="1715.500" y="1478"/><use href="#g" x="2069" y="1671"/><use href="#g" x="2232" y="1266.600"/><use href="#g" x="2563.300" y="1159.400"/><use href="#g" x="2465.700" y="1366.700"/><use href="#g" x="2392" y="1879"/><use href="#g" x="2653" y="1856"/><use href="#g" x="2975" y="1791.600"/><use href="#g" x="2953" y="2026"/><use href="#g" x="3457" y="1787"/><use href="#g" x="3831" y="1770.500"/><use href="#g" x="3425" y="2019"/><use href="#g" x="628" y="2334.500"/><use href="#g" x="403" y="2627"/><use href="#g" x="865" y="2638.600"/><use href="#g" x="1815" y="2103.700"/><use href="#g" x="1301.500" y="2589.600"/><use href="#g" transform="translate(792.700 930) scale(1 -1)"/>
<!-- power arrows -->
<use href="#a" x="346.700" y="848"/><use href="#a" x="1285" y="950"/><use href="#a" x="1431" y="1094"/><use href="#a" x="1460" y="1180"/><use href="#a" x="2069" y="1399"/><use href="#a" x="2649" y="311"/><use href="#a" x="2971" y="339"/><use href="#a" x="2982" y="635"/><use href="#a" x="3091" y="720"/><use href="#a" x="3416" y="734"/><use href="#a" x="3065" y="1035"/><use href="#a" x="3479" y="1005"/><use href="#a" x="2597.800" y="1038"/><use href="#a" x="2333.700" y="1628"/><use href="#a" x="2271.700" y="1677"/><use href="#a" x="2515" y="1678"/><use href="#a" x="2878" y="1635"/><use href="#a" x="2871.500" y="1875"/><use href="#a" x="3400" y="1610"/><use href="#a" x="3566" y="1605"/><use href="#a" x="3662" y="1611"/><use href="#a" x="3831" y="1610"/><use href="#a" x="3343" y="1867"/><use href="#a" x="3498" y="1874"/><use href="#a" x="309" y="2392"/><use href="#a" transform="translate(2422 100) scale(1 -1)"/>
<!-- test points -->
<use href="#t" x="240" y="927"/><use href="#t" x="268" y="927"/><use href="#t" x="571.700" y="896"/><use href="#t" x="2079.500" y="90"/><use href="#t" x="1732" y="306"/><use href="#t" x="1760" y="306"/><use href="#t" x="1804" y="304.600"/><use href="#t" x="2226" y="343"/><use href="#t" x="2164" y="545"/><use href="#t" x="3516" y="289.500"/><use href="#t" x="2955" y="1654"/><use href="#t" x="3451.400" y="1888"/><use href="#t" x="2490" y="1030"/><use href="#t" x="2512.800" y="1152.400"/><use href="#t" transform="translate(2555.900 1255.700) rotate(90)"/><use href="#t" transform="translate(2555.900 1281) rotate(90)"/><use href="#t" x="2358.400" y="1730"/><use href="#t" x="2380.800" y="1709"/><use href="#t" x="2410" y="1724"/><use href="#t" x="2573" y="1868"/><use href="#t" x="2595.500" y="1868"/>
<!-- chevrons -->
<use href="#cl" x="576" y="986.700"/><use href="#cl" x="275" y="1411"/><use href="#cl" x="1458" y="1990.600"/>
<use href="#cl" transform="translate(1638 1638) rotate(180)"/><use href="#cl" transform="translate(1638 1651) rotate(180)"/><use href="#cl" transform="translate(460 2527) rotate(180)"/>
<use href="#cl" transform="translate(168 1169) rotate(90)"/><use href="#cl" transform="translate(636.700 970) rotate(90)"/><use href="#cl" transform="translate(684.700 976.700) rotate(90)"/><use href="#cl" transform="translate(708.800 981) rotate(90)"/>
<use href="#cl" transform="translate(830 2122) rotate(-90)"/><use href="#cl" transform="translate(842 2122) rotate(-90)"/><use href="#cl" transform="translate(1094 2097) rotate(-90)"/>

<!-- TX labels -->
<text x="510" y="188">TXO0+_OUT</text><text x="603" y="187">C598</text><text x="652" y="182">NC/</text><text x="674" y="186">10P</text>
<text x="514" y="202">TXO1+_OUT</text><text x="603" y="204">C572</text><text x="651" y="202">NC/</text><text x="673" y="205">10P</text>
<text x="512" y="219">TXO2+_OUT</text><text x="603" y="221">C573</text><text x="649" y="220">NC/</text><text x="672" y="221">10P</text>
<text x="509" y="235">TXOC+_OUT</text><text x="603" y="238">C529</text><text x="648" y="237">NC/</text><text x="671" y="238">10P</text>
<text x="510" y="253">TXO3+_OUT</text><text x="603" y="254">C532</text><text x="646" y="253">NC/</text><text x="670" y="254">10P</text>
<text x="510" y="270">TXO4+_OUT</text><text x="603" y="271">C599</text><text x="649" y="268">NC/</text><text x="673" y="274">10P</text>
<text x="510" y="337">TXE0+_OUT</text><text x="603" y="338">C577</text><text x="651" y="337">NC/</text><text x="673" y="338">10P</text>
<text x="511" y="354">TXE1+_OUT</text><text x="603" y="355">C578</text><text x="650" y="352">NC/</text><text x="673" y="355">10P</text>
<text x="514" y="372">TXE2+_OUT</text><text x="603" y="371">C579</text><text x="650" y="369">NC/</text><text x="673" y="371">10P</text>
<text x="512" y="388">TXEC+_OUT</text><text x="603" y="389">C580</text><text x="650" y="387">NC/</text><text x="672" y="389">10P</text>
<text x="511" y="403">TXE3+_OUT</text><text x="603" y="406">C581</text><text x="650" y="404">NC/</text><text x="672" y="406">10P</text>
<text x="512" y="420">TXE4+_OUT</text><text x="603" y="422">C597</text><text x="650" y="420">NC/</text><text x="672" y="422">10P</text>
<text class="c" x="698" y="468">DGND</text>
<text x="814" y="196">TXO0-_OUT</text><text x="901" y="196">C582</text><text x="948" y="194">NC/</text><text x="972" y="196">10P</text>
<text x="816" y="212">TXO1-_OUT</text><text x="901" y="212">C583</text><text x="947" y="210">NC/</text><text x="970" y="214">10P</text>
<text x="814" y="226">TXO2-_OUT</text><text x="901" y="229">C584</text><text x="947" y="226">NC/</text><text x="970" y="230">10P</text>
<text x="812" y="243">TXOC-_OUT</text><text x="901" y="246">C585</text><text x="946" y="244">NC/</text><text x="970" y="246">10P</text>
<text x="813" y="260">TXO3-_OUT</text><text x="901" y="262">C586</text><text x="946" y="261">NC/</text><text x="970" y="262">10P</text>
<text x="816" y="278">TXO4-_OUT</text><text x="901" y="280">C587</text><text x="946" y="278">NC/</text><text x="968" y="280">10P</text>
<text x="816" y="345">TXE0-_OUT</text><text x="901" y="347">C591</text><text x="950" y="344">NC/</text><text x="972" y="346">10P</text>
<text x="820" y="360">TXE1-_OUT</text><text x="901" y="364">C592</text><text x="948" y="362">NC/</text><text x="970" y="364">10P</text>
<text x="822" y="376">TXE2-_OUT</text><text x="901" y="380">C593</text><text x="948" y="379">NC/</text><text x="970" y="380">10P</text>
<text x="819" y="394">TXEC-_OUT</text><text x="901" y="396">C594</text><text x="948" y="394">NC/</text><text x="970" y="396">10P</text>
<text x="823" y="411">TXE3-_OUT</text><text x="901" y="413">C595</text><text x="946" y="411">NC/</text><text x="967" y="413">10P</text>
<text x="819" y="431">TXE4-_OUT</text><text x="901" y="431">C596</text><text x="946" y="429">NC/</text><text x="967" y="431">10P</text>
<text class="c" x="996" y="480">DGND</text>

<!-- P502 labels -->
<text x="1977" y="154">P502</text><text x="2099" y="94">12VP</text><text class="c" x="2423" y="76">12V</text><text x="2236" y="107">R580</text><text x="2308" y="103">NC/</text><text x="2331" y="104">0R</text><text x="2238" y="161">R581</text><text x="2312" y="159">NC/</text><text x="2336" y="161">0R</text>
<text x="1848" y="200">TXO0+_OUT</text><text x="1851" y="224">TXO1+_OUT</text><text x="1868" y="245">TXO2+_OUT</text><text x="1865" y="271">TXOC+_OUT</text><text x="1862" y="294">TXO3+_OUT</text><text x="1862" y="315">TXO4+_OUT</text><text x="1867" y="415">TXE0+_OUT</text><text x="1869" y="435">TXE1+_OUT</text><text x="1865" y="463">TXE2+_OUT</text><text x="1867" y="488">TXEC+_OUT</text><text x="1858" y="511">TXE3+_OUT</text><text x="1860" y="536">TXE4+_OUT</text>
<text x="2075" y="201">TXO0-_OUT</text><text x="2060" y="225">TXO1-_OUT</text><text x="2070" y="244">TXO2-_OUT</text><text x="2061" y="271">TXOC-_OUT</text><text x="2061" y="295">TXO3-_OUT</text><text x="2060" y="319">TXO4-_OUT</text><text x="2056" y="416">TXE0-_OUT</text><text x="2059" y="440">TXE1-_OUT</text><text x="2058" y="464">TXE2-_OUT</text><text x="2061" y="489">TXEC-_OUT</text><text x="2058" y="512">TXE3-_OUT</text><text x="2061" y="536">TXE4-_OUT</text>
<text x="1583" y="296">DIM_OUT</text><text x="1706" y="292">SCL</text><text x="1738" y="292">SDA</text><text x="1783" y="289">DIM_OUT</text><text x="1627" y="346">R540</text><text x="1629.500" y="370">R541</text><text x="1629.500" y="395">R542</text><text x="1590" y="369">SDA</text><text x="1587.500" y="390">SCL</text><text x="1879.500" y="346">SYNC</text><text x="1879.500" y="367">M_SDA</text><text x="1880" y="390">M_SCL</text>
<text class="c" x="1679" y="353">100R</text><text class="c" x="1682" y="376">100R</text><text class="c" x="1681" y="401">100R</text>
<text x="2235" y="346">FORMAT</text><text x="2068" y="390">FORMAT</text><text class="c" x="2226" y="442">DGND</text><text x="2179" y="538">GND13</text><text x="2200" y="600">PANEL_VCC</text><text x="2150" y="643">C509</text><text x="2148" y="668">0.1U</text><text class="c" x="2091" y="740">DGND</text>
<text x="2381" y="366">ROTATE</text><text x="2495" y="365">R582</text><text class="c" x="2506" y="376">1K</text><text x="2601" y="368">3.3VA</text><text x="2633" y="308" class="b">3.3VA</text><text x="2348" y="433">R583</text><text x="2356" y="445">1K</text><text class="c" x="2382" y="506">DGND</text><text x="2440" y="465" style="font-size:20px;letter-spacing:0">add on Jue. 8th 2011</text>
<!-- MCU -->
<text x="3093" y="242">+3_3VSTB</text><text class="c" x="3176" y="252">0R</text><text x="3199" y="242">R500</text><text x="3193" y="313">R501</text><text x="3205" y="329">1M</text><text x="3273" y="306">1</text><text x="3308" y="291">3</text><text x="3347" y="306">2</text><text x="3291" y="329">D501</text><text x="3291" y="337">0BAV99</text><text x="3367" y="332">Q500</text><text x="3357" y="343">BT3906</text><text x="3299" y="362">R530</text><text class="c" x="3311" y="374">4K7</text>
<text x="3397" y="354" style="font-size:8px">E</text><text x="3372" y="377" style="font-size:8px">B</text><text x="3397" y="392" style="font-size:8px">C</text>
<text class="c" x="3227" y="572">DGND</text><text x="3415" y="466">R502</text><text x="3420" y="493">47K</text><text class="c" x="3471" y="407">DGND</text><text x="3480" y="274">MCU_RESET</text><text x="3551" y="300">delete remark nc and 1r</text><text x="3587" y="402">R503</text><text class="c" x="3603" y="421">1K</text><text x="3704" y="415">MCU_RESET</text><text x="3683" y="438">C519</text><text x="3681.500" y="474">1000P</text><text class="c" x="3680" y="516">DGND</text>
<text x="2922" y="336" class="b">+2V5_DDR_VDD</text><text x="3008" y="404">correct the r value to 1k</text><text x="3006" y="448">MVREF</text><text class="c" x="2971" y="583">DGND</text>
<text x="2952" y="632" class="b">+2V5_DDR</text><text x="2883" y="694">R568</text><text class="c" x="2895" y="706">1K</text><text x="2884" y="718">1%</text><text x="2728" y="694">A-MVREF</text><text x="2763" y="738">R569</text><text x="2773" y="750">1K</text><text x="2770" y="759">1%</text><text x="2726" y="758">C513</text><text x="2726" y="769">0.1U</text><text class="c" x="2755" y="818">DGND</text><text x="2862.500" y="745">delete 1 cap</text>
<text x="3053" y="745">2.5V</text><text x="3105" y="760">L502</text><text x="3141" y="764">120R</text><text x="3121" y="792">50mA</text><text x="3217.600" y="763">+2V5_DDR</text><text x="3019" y="865">Close to DDR Power Pin</text><text class="c" x="3183.500" y="931">DGND</text>
<text class="c" x="3400" y="726">2.5V</text><text x="3430.500" y="774">L506</text><text x="3465" y="779">120R</text><text x="3443.500" y="804">250mA</text><text x="3545" y="772.500">+2V5_VDD</text><text class="c" x="3508.500" y="946">DGND</text>
<text x="3452" y="996">2.5V</text>
<text class="c" x="3060" y="1026">2.5V</text><text x="3080" y="1074">L503</text><text x="3115" y="1079">120R</text><text x="3176" y="1077">+2V5_DDR_VDD</text><text class="c" x="3157.500" y="1246">DGND</text>
<text x="3492" y="1039">L504</text><text x="3527" y="1044">120R</text><text x="3575" y="1038">+2V5_PGA</text><text x="3591" y="1150">AVSS_PGA</text><text class="c" x="3578" y="1268">DGND</text>
<!-- P501 -->
<text x="171.700" y="962">P501</text><text x="217" y="986">4</text><text x="217" y="1010">3</text><text x="217" y="1034">2</text><text x="217" y="1058">1</text><text x="182.700" y="929">UART_TX</text><text x="276" y="931">UART_RX</text><text x="319" y="844">+3_3VSTB</text><text x="363.700" y="984">UART_TX</text><text x="361.700" y="1009">UART_RX</text><text class="c" x="336" y="1088">DGND</text>
<text x="548.700" y="889">GPIO9</text><text x="485.300" y="991">(1)</text><text x="505" y="989">LED_OUT</text><text class="c" x="551.700" y="1130">DGND</text><text class="c" x="618" y="978">(1)</text><text class="c" x="684" y="895">(1)</text><text class="c" x="716" y="984">(1)</text><text x="722.700" y="850">correct value</text><text class="c" x="794" y="920">DGND</text>
<text x="1240" y="948">+2V5_DDR_VDD</text>
<!-- U501 left nets -->
<text x="396.600" y="1226.600">IRIN</text><text x="229.500" y="1232">68R</text><text class="c" x="211" y="1236">R567</text><text x="157" y="1224" class="b">IR</text><text x="155" y="1162">IR</text><text x="178" y="1161.500">(1)</text><text class="c" x="259.500" y="1361">DGND</text>
<text x="328.300" y="1239">H_CEC</text><text x="324.500" y="1251">MCU_RESET</text><text x="328.300" y="1263">H1_HPD_OUT</text><text x="332" y="1275">H1_RXC-_IN</text><text x="330" y="1287">H1_RXC+_IN</text><text x="332.800" y="1299">H1_RX0-_IN</text><text x="331.500" y="1311">H1_RX0+_IN</text><text x="317" y="1323">+3_3VSTB</text><text x="332.800" y="1335">H1_RX1-_IN</text><text x="331.500" y="1347">H1_RX1+_IN</text><text x="328.300" y="1359">H1_SDA_OUT</text><text x="332.800" y="1371">H1_RX2-_IN</text><text x="331.500" y="1383">H1_RX2+_IN</text><text x="329.600" y="1395">H1_SCL_IN</text><text x="328.300" y="1410">H1_ARC_OUT</text><text x="172.700" y="1415">(4)</text><text x="193" y="1415">H1_ARC_OUT</text>
<text x="378.700" y="1503">1.28V</text><text x="381" y="1515">VGA_HS_IN</text><text x="383.800" y="1527">VGA_BLU_IN</text><text x="382.500" y="1539">VGA_SOG_IN</text><text x="382.500" y="1551">VGA_GRN_IN</text><text x="386.400" y="1563">VGA_GRN_IN-</text><text x="382.500" y="1575">VGA_RED_IN</text><text x="381" y="1587">VGA_VS_IN</text><text x="386.400" y="1599">1.28V</text><text x="385.700" y="1611">+2V5_VDD</text><text x="388.300" y="1623">HD1_PB_IN</text><text x="382.500" y="1635">HD1_SOG_IN</text><text x="389" y="1647">HD1_Y_IN+</text><text x="390" y="1659">HD1_Y_IN-</text><text x="388.300" y="1671">HD1_PR_IN</text><text x="375.500" y="1683">+3_3VSTB</text>
<text x="380.600" y="1719">AV1_V_IN</text><text x="380.600" y="1731">AV2_V_IN</text><text x="381" y="1755">VCOM0</text><text x="380" y="1767">AVOUT1_V_OUT</text><text x="380.600" y="1779">HD1_L_IN</text><text x="380" y="1791">HD1_R_IN</text><text x="381" y="1803">AV1_L_IN</text><text x="380.600" y="1815">AV1_R_IN</text>
<text x="285" y="1827">AUVRM</text><text x="304" y="1840">AUVRP</text><text x="327.700" y="1851">AUVRG</text><text x="379" y="1863">+2V5_VDD</text>
<text x="152" y="2005">L512</text><text x="176.500" y="2023">120R</text><text x="270" y="2030">CLOSE TO IC</text><text class="c" x="176.500" y="2105">DGND</text>
<text x="869" y="1525" style="font-size:11px">U501</text><text x="845.500" y="1622.600" style="font-size:11px">MST6M181VS</text>
<!-- U501 right nets -->
<text x="1382.600" y="1091" class="b">VDDC_1V28_DDR</text><text x="1475" y="1184.500">+2V5_DDR_VDD</text>
<text x="1370" y="1239">LDQM</text><text x="1371" y="1251">LDQS</text><text x="1371" y="1299">A_MDATA7</text><text x="1369.600" y="1311">A_MDATA6</text><text x="1369.600" y="1323">A_MDATA5</text><text x="1368" y="1347">A_MDATA4</text><text x="1368" y="1359">A_MDATA3</text><text x="1368" y="1371">A_MDATA2</text><text x="1366.600" y="1383">A_MDATA1</text><text x="1371" y="1407">A_MDATA0</text><text x="1412.500" y="1419">WE</text><text x="1409.400" y="1431">CAS</text><text x="1409.400" y="1443">RAS</text><text x="1405.600" y="1455">BA0</text><text x="1411" y="1479">BA1</text><text x="1379.600" y="1491">A_MADR10</text><text x="1388" y="1503">A_MADR0</text><text x="1388" y="1515">A_MADR1</text><text x="1388" y="1527">A_MADR2</text><text x="1388" y="1539">A_MADR3</text><text x="1416" y="1575">1.28V</text><text x="1384" y="1587">CFG-PWM1</text><text x="1395.700" y="1599">PWM_0</text><text x="1385" y="1611">+3V3_VDD</text><text x="1387" y="1635">LOGO_PWM</text><text x="1375" y="1647">AMP_REST_OUT</text><text x="1385" y="1671">+3V3_VDD</text><text x="1385" y="1683">+2V5_VDD</text><text x="1413" y="1695">1.28V</text>
<text x="1377" y="1707">TXO0-_OUT</text><text x="1375.800" y="1719">TXO0+_OUT</text><text x="1377" y="1731">TXO1-_OUT</text><text x="1375.800" y="1743">TXO1+_OUT</text><text x="1377" y="1755">TXO2-_OUT</text><text x="1375.800" y="1767">TXO2+_OUT</text><text x="1377" y="1779">TXOC-_OUT</text><text x="1375.800" y="1791">TXOC+_OUT</text><text x="1377" y="1803">TXO3-_OUT</text><text x="1375.800" y="1815">TXO3+_OUT</text><text x="1377" y="1827">TXO4-_OUT</text><text x="1375.800" y="1839">TXO4+_OUT</text><text x="1378" y="1851">TXE0-_OUT</text><text x="1375.800" y="1863">TXE0+_OUT</text>
<text class="c" x="1491" y="1643">100R</text><text class="c" x="1491" y="1655">100R</text><text x="1514" y="1639">R507</text><text x="1517" y="1663">R526</text><text x="1639" y="1640" class="b">LOGO_OUT</text><text x="1639" y="1654" class="b">AMP_RESET</text><text x="1718" y="1640">(1)</text><text x="1718" y="1654">(1)</text>
<!-- U502 nets -->
<text x="1874" y="1121" style="font-size:17px;letter-spacing:0">U502</text><text x="1868.600" y="1666">HY5DU281622FT</text>
<text x="1758.400" y="1137">A-MVREF</text><text x="1760.700" y="1173">A_MADR0</text><text x="1760" y="1185">A_MADR1</text><text x="1760" y="1197">A_MADR2</text><text x="1760" y="1209">A_MADR3</text><text x="1760" y="1221">A_MADR4</text><text x="1760" y="1233">A_MADR5</text><text x="1758.400" y="1245">A_MADR6</text><text x="1760" y="1257">A_MADR7</text><text x="1760" y="1269">A_MADR8</text><text x="1758.400" y="1281">A_MADR9</text><text x="1758.400" y="1293">A_MADR10</text><text x="1760" y="1305">A_MADR11</text><text x="1758.400" y="1317">A_MADR12</text><text x="1762" y="1365">A_MCLK+</text><text x="1764" y="1377">A_MCLK-</text><text x="1761.500" y="1389">CKE</text><text x="1767.600" y="1437">RAS</text><text x="1767.600" y="1449">CAS</text><text x="1770" y="1461">WE</text><text x="1770" y="1497">LDQS</text><text x="1768.400" y="1509">UDQS</text><text x="1769" y="1545">LDQM</text><text x="1769" y="1557">UDQM</text><text x="1777.500" y="1593">BA0</text><text x="1777.500" y="1605">BA1</text><text class="c" x="1717" y="1498">DGND</text>
<text x="2013" y="1137">A_MDATA0</text><text x="2013" y="1149">A_MDATA1</text><text x="2013" y="1161">A_MDATA2</text><text x="2013" y="1173">A_MDATA3</text><text x="2011" y="1185">A_MDATA4</text><text x="2013" y="1197">A_MDATA5</text><text x="2013" y="1209">A_MDATA6</text><text x="2013" y="1221">A_MDATA7</text><text x="2013" y="1233">A_MDATA8</text><text x="2013" y="1245">A_MDATA9</text><text x="2007" y="1257">A_MDATA10</text><text x="2007" y="1269">A_MDATA11</text><text x="2007" y="1281">A_MDATA12</text><text x="2007" y="1293">A_MDATA13</text><text x="2009" y="1305">A_MDATA14</text><text x="2007" y="1317">A_MDATA15</text><text x="2039" y="1395" class="b">+2V5_DDR</text><text class="c" x="2069" y="1690">DGND</text>
<!-- VGA -->
<text x="1361" y="1992" class="b">VGA_GRN_IN-</text><text x="1547.500" y="1988">C526</text><text x="1606" y="1988">0.047U</text><text x="1681.600" y="1988">R574</text><text class="c" x="1735" y="1995">68R</text><text x="1469" y="2014">VCOM0</text><text x="1557" y="2015">C525</text><text x="1606" y="2015">0.047U</text><text x="1677" y="2014">R563</text><text class="c" x="1736.500" y="2021">68R</text><text x="1471.400" y="2040">HD1_Y_IN-</text><text x="1556" y="2040">C524</text><text x="1606" y="2040">0.047U</text><text x="1678" y="2040">R564</text><text class="c" x="1735" y="2046">68R</text><text class="c" x="1817" y="2122">DGND</text>
<!-- I2S -->
<text x="777" y="2369">I2S_LRCK_O</text><text x="776.600" y="2389">I2S_DATA_O</text><text x="777" y="2405">I2S_MCK_O</text><text x="779" y="2425">I2S_BCK_O</text><text x="1007" y="2371">R508</text><text x="1005.600" y="2392">R509</text><text x="1007" y="2408">R513</text><text x="1007" y="2426">R519</text><text class="c" x="1060.600" y="2377">33R</text><text class="c" x="1060.600" y="2398">33R</text><text class="c" x="1060.600" y="2414">33R</text><text class="c" x="1060.600" y="2432">33R</text><text x="1102" y="2368">I2S_LRCK</text><text x="1103" y="2389">I2S_DATA</text><text x="1106" y="2407">I2S_MCK</text><text x="1107.600" y="2424">I2S_BCK</text><text class="c" x="866.600" y="2656">DGND</text><text class="c" x="1303" y="2608.500">DGND</text>
<!-- XTAL -->
<text x="406" y="2213">M_XTALO</text><text x="399" y="2322">M_XTALI</text><text x="539.400" y="2207">22P</text><text x="542" y="2237">C520</text><text x="544.500" y="2298">22P</text><text x="540.700" y="2328">C521</text><text class="c" x="630" y="2353">DGND</text><text x="418" y="2254">1M</text><text x="413" y="2272">R512</text><text x="514.500" y="2252">24M</text><text x="516.500" y="2270">X24M</text><text x="455" y="2364">correct cap value.c520,c521</text>
<text x="279" y="2390">TUNER_5V</text><text x="338.500" y="2516">R514</text><text x="331.500" y="2549">10K</text><text x="462" y="2530">TU_RFAGC_OUT</text><text x="390" y="2490">delete 1 r</text><text class="c" x="404" y="2645">DGND</text>
<!-- U504 -->
<text x="2270" y="1150">U504</text><text x="2299" y="1262">M24C64</text><text x="2263" y="1165">1</text><text x="2263" y="1189">2</text><text x="2263" y="1213">3</text><text x="2263" y="1237">4</text><text x="2271" y="1172">E0/NC</text><text x="2271" y="1196">E1/NC</text><text x="2271" y="1220">E2/NC</text><text x="2271" y="1244">VSS</text><text class="e" x="2389" y="1172">VCC</text><text class="e" x="2389" y="1196">WC</text><text class="e" x="2389" y="1220">SCL</text><text class="e" x="2389" y="1244">SDA</text><text x="2390" y="1165">8</text><text x="2390" y="1189">7</text><text x="2390" y="1213">6</text><text x="2390" y="1237">5</text><text class="c" x="2233" y="1285">DGND</text>
<text x="2582" y="1035">3.3VA</text><text x="2488.700" y="1024">3_3VA1</text><text x="2504" y="1068">3.3VA</text><text x="2560.400" y="1109">C507</text><text x="2566" y="1133">2U2</text><text class="c" x="2564" y="1177.500">DGND</text><text x="2494.400" y="1146">EEPROM_WP</text><text x="2500" y="1190">R515</text><text class="c" x="2546.700" y="1196">100R</text><text x="2589" y="1188">E_WP</text><text x="2500" y="1214">R516</text><text class="c" x="2546.700" y="1220">100R</text><text x="2593" y="1210">SCL</text><text x="2500" y="1237">R517</text><text class="c" x="2546.700" y="1243">100R</text><text x="2594.300" y="1236">SDA</text><text x="2568.500" y="1260">I2C_SCL</text><text x="2567" y="1285">I2C_SDA</text><text x="2438.700" y="1271">C517</text><text x="2441" y="1328">47P</text><text x="2468" y="1273">C518</text><text x="2503" y="1318">47P</text><text x="2394" y="1294">R518</text><text x="2398.600" y="1304">4K7</text><text x="2400" y="1315">NC</text><text class="c" x="2467" y="1385">DGND</text>
<!-- U503 -->
<text x="2467" y="1744">U503</text><text x="2458" y="1857">EN25Q32A</text><text x="2427" y="1761">1</text><text x="2427" y="1785">2</text><text x="2427" y="1808">3</text><text x="2427" y="1832">4</text><text x="2542" y="1761">8</text><text x="2542" y="1785">7</text><text x="2542" y="1808">6</text><text x="2542" y="1832">5</text><text x="2446" y="1768" class="o">CS</text><text x="2446" y="1792">DO</text><text x="2446" y="1815" class="o">WP</text><text x="2446" y="1840">VSS</text><text class="e" x="2530" y="1768">VCC</text><text class="e" x="2530" y="1792">NC</text><text class="e" x="2530" y="1815">CLK</text><text class="e" x="2530" y="1840">DI</text>
<text x="2286.600" y="1755">SPI_CZ</text><text x="2306" y="1624">+3_3VSTB</text><text x="2341" y="1717">SDO</text><text x="2365" y="1703">CZ1</text><text x="2397.400" y="1704">FLASH_WP</text><text x="2370.400" y="1782">SPI_SDO</text><text x="2176.400" y="1809.500">F_WP</text><text x="2317.600" y="1792">R529</text><text x="2306" y="1804">100R</text><text x="2362.400" y="1804">WP_F</text><text x="2243.600" y="1674">+3_3VSTB</text><text x="2211" y="1832">C523</text><text x="2211" y="1842">0.1U</text><text class="c" x="2394" y="1897.500">DGND</text><text x="2487" y="1675">+3_3VSTB</text><text x="2553" y="1704">L501</text><text x="2554.700" y="1716">120R</text><text x="2656" y="1788">C514</text><text x="2656" y="1798">0.1U</text><text class="c" x="2654" y="1873">DGND</text><text x="2560.400" y="1804">SPI_SCK</text><text x="2562.700" y="1828">SPI_SDI</text><text x="2553" y="1890">SCK</text><text x="2593" y="1890">SDI</text><text x="2250" y="1959">add c523 r527nc,</text>
<!-- Right side -->
<text class="c" x="2877" y="1630">1.28V</text><text x="2929" y="1637">VDDC_1V28_DDR</text><text x="2968" y="1669">VDDC_1V28_DDR</text><text x="2902" y="1673">120R</text><text x="2904.500" y="1693">L507</text><text class="c" x="2975" y="1808">DGND</text>
<text class="c" x="2871.500" y="1870">1.28V</text><text x="2881.500" y="1941.500">600mA</text><text x="3056" y="1908">1.28V</text><text class="c" x="2953" y="2044">DGND</text>
<text x="3371" y="1605">+3_3VSTB</text><text x="3538" y="1604">+3_3VSTB</text><text x="3446" y="1640">+3_3VSTB</text><text x="3395" y="1656">100mA</text><text class="c" x="3457" y="1805">DGND</text>
<text x="3634" y="1608" class="b">+3_3VSTB</text><text x="3793" y="1606" class="b">AVDD_DMPLL</text><text x="3673" y="1639">L509</text><text x="3709" y="1644">120R</text><text class="c" x="3832" y="1789">DGND</text>
<text x="3327.400" y="1864">3.3VA</text><text x="3401" y="1876">+3V3_VDD</text><text x="3469" y="1871">+3V3_VDD</text><text x="3513" y="1900">+3V3_VDD</text><text x="3357" y="1895">L511</text><text x="3368" y="1906">120R</text><text class="c" x="3426" y="2036">DGND</text>

<!-- rotated -90 -->
<g transform="rotate(-90)">
<text x="-1110" y="621" class="b">LED_OUT</text><text x="-1095" y="632">POWER_ON_OUT</text><text x="-1084" y="644">F_WP</text><text x="-1082" y="656">ISP-TXD</text><text x="-1082" y="670">ISP-RXD</text><text x="-1087" y="681">BL_ON_OUT</text><text x="-1107" y="706">LIGHTSENSOR_OUT</text><text x="-1083" y="717">KEY_IN</text><text x="-1083" y="730">SPI_CZ</text><text x="-1083" y="742">SPI_SDO</text><text x="-1083" y="753">SPI_SDI</text><text x="-1083" y="766">SPI_SCK</text><text x="-1087" y="803">+3_3VSTB</text><text x="-1090" y="814">USB2_D+_IN</text><text x="-1090" y="826">USB2_D-_IN</text><text x="-1093" y="873">SCL</text><text x="-1093" y="887">+3V3_VDD</text><text x="-1097" y="899">SDA</text><text x="-1095" y="921">A_MADR4</text><text x="-1095" y="933">A_MADR5</text><text x="-1095" y="946">A_MADR6</text><text x="-1095" y="957">A_MADR7</text><text x="-1095" y="969">A_MADR8</text><text x="-1095" y="993">A_MADR9</text><text x="-1095" y="1006">A_MADR11</text><text x="-1095" y="1017">A_MADR12</text><text x="-1092" y="1029">CKE</text><text x="-1095" y="1053">A_MCLK+</text><text x="-1094" y="1076">A_MCLK-</text><text x="-1098" y="1089">A_MDATA15</text><text x="-1098" y="1113">A_MDATA14</text><text x="-1098" y="1125">MVREF</text><text x="-1098" y="1137">A_MDATA13</text><text x="-1098" y="1150">A_MDATA12</text><text x="-1098" y="1161">A_MDATA11</text><text x="-1098" y="1174">A_MDATA10</text><text x="-1098" y="1197">A_MDATA9</text><text x="-1098" y="1209">A_MDATA8</text><text x="-1098" y="1224">UDQS</text><text x="-1098" y="1234">UDQM</text><text x="-1098" y="1247">+3V3_VDD</text>
<text x="-967" y="640">POWER_ON_OUT</text><text x="-970" y="687">BL_ON_OUT</text><text x="-973" y="712">LIGHTSENSOR_OUT</text><text x="-840" y="655">UART_TX</text><text x="-838" y="683">UART_RX</text><text class="c" x="-850" y="653">R510</text><text class="c" x="-853" y="693">R511</text><text class="c" x="-859" y="665">100R</text><text class="c" x="-859" y="677">100R</text><text class="c" x="-960" y="784">C515</text><text class="c" x="-970" y="813">2U2</text><text x="-980" y="909">1.28V</text>
<text class="c" x="-901" y="345">R576</text><text class="c" x="-901" y="368">R575</text><text class="c" x="-939" y="351">4K7</text><text class="c" x="-939" y="374">4K7</text>
<text x="-2083" y="669">+3V3_VDD</text><text x="-2083" y="681">AVOUT1_L_OUT</text><text x="-2083" y="693">AVOUT1_R_OUT</text><text x="-2083" y="765">M_XTALI</text><text x="-2083" y="777">M_XTALO</text><text x="-2083" y="790">AVDD_DMPLL</text><text x="-2083" y="802">+2V5_VDD</text><text x="-2083" y="814">AVSS_PGA</text><text x="-2081" y="850">+2V5_PGA</text><text x="-2083" y="886">TU_RFAGC_OUT</text><text x="-2083" y="897">I2S_LRCK</text><text x="-2083" y="910">I2S_DATA</text><text x="-2083" y="922">TUNER_SCL</text><text x="-2086" y="934">TUNER_SDA</text><text x="-2089" y="946">H1_DET</text><text x="-2086" y="969">1.28V</text><text x="-2083" y="983">+3V3_VDD</text><text x="-2083" y="994">PANEL_ON</text><text x="-2083" y="1006">I2S_MCK</text><text x="-2083" y="1018">I2S_BCK</text><text x="-2090" y="1031">SW_GAIN</text><text x="-2083" y="1051">E_WP</text>
<text x="-2083" y="1114">TXE4+_OUT</text><text x="-2083" y="1126">TXE4-_OUT</text><text x="-2083" y="1138">TXE3+_OUT</text><text x="-2083" y="1151">TXE3-_OUT</text><text x="-2083" y="1163">TXEC+_OUT</text><text x="-2083" y="1175">TXEC-_OUT</text><text x="-2083" y="1186">TXE2+_OUT</text><text x="-2083" y="1198">TXE2-_OUT</text><text x="-2083" y="1211">TXE1+_OUT</text><text x="-2083" y="1222">TXE1-_OUT</text><text x="-2083" y="1234">+2V5_VDD</text>
<text class="c" x="-1296.500" y="258">C531</text><text class="c" x="-1263" y="258">0.1U</text>
<text class="c" x="-1948" y="214">C510</text><text class="c" x="-1907" y="216">10U</text><text class="c" x="-1907" y="250">0.1U</text><text class="c" x="-1950" y="251">C500</text><text class="c" x="-1931" y="292">10U</text><text class="c" x="-1939" y="281">C511</text><text class="c" x="-1909" y="329">0.1U</text><text class="c" x="-1950" y="331">C530</text>
<text class="c" x="-441" y="3196">C503</text><text class="c" x="-444" y="3215">1U</text><text class="c" x="-319" y="3463">10U</text><text class="c" x="-361" y="3457">C508</text>
<text class="c" x="-408" y="2963">R505</text><text class="c" x="-411" y="2975">1K</text><text class="c" x="-411" y="2988">1%</text><text class="c" x="-499" y="2961">R506</text><text class="c" x="-499" y="2975">1K</text><text class="c" x="-499" y="2988">1%</text><text class="c" x="-469" y="3039">0.1U</text><text class="c" x="-521" y="3033">C527</text>
<text class="c" x="-810" y="3176">2U2</text><text class="c" x="-858" y="3181">C501</text><text class="c" x="-811" y="3205">0.1U</text><text class="c" x="-853" y="3205">C540</text><text class="c" x="-811" y="3221">0.1U</text><text class="c" x="-853" y="3222">C528</text><text class="c" x="-811" y="3246">0.1U</text><text class="c" x="-853" y="3246">C534</text><text class="c" x="-811" y="3266">0.1U</text><text class="c" x="-853" y="3266">C535</text><text class="c" x="-811" y="3286">0.1U</text><text class="c" x="-853" y="3286">C536</text><text class="c" x="-811" y="3306">0.1U</text><text class="c" x="-853" y="3306">C537</text><text class="c" x="-811" y="3326">0.1U</text><text class="c" x="-853" y="3326">C538</text><text class="c" x="-811" y="3346">0.1U</text><text class="c" x="-853" y="3346">C539</text>
<text class="c" x="-823" y="3507">0.1U</text><text class="c" x="-864" y="3507">C553</text><text class="c" x="-826" y="3533">0.1U</text><text class="c" x="-867" y="3533">C549</text><text class="c" x="-826" y="3553">0.1U</text><text class="c" x="-867" y="3553">C550</text><text class="c" x="-826" y="3573">0.1U</text><text class="c" x="-867" y="3573">C551</text><text class="c" x="-826" y="3593">0.1U</text><text class="c" x="-867" y="3593">C552</text>
<text class="c" x="-1117" y="3151">2U2</text><text class="c" x="-1174" y="3145">C502</text><text class="c" x="-1126" y="3179">0.1U</text><text class="c" x="-1167" y="3181">C547</text><text class="c" x="-1126" y="3195">0.1U</text><text class="c" x="-1167" y="3196">C512</text><text class="c" x="-1126" y="3220">0.1U</text><text class="c" x="-1167" y="3220">C541</text><text class="c" x="-1126" y="3240">0.1U</text><text class="c" x="-1167" y="3240">C542</text><text class="c" x="-1126" y="3259">0.1U</text><text class="c" x="-1167" y="3259">C543</text><text class="c" x="-1126" y="3279">0.1U</text><text class="c" x="-1167" y="3279">C544</text><text class="c" x="-1126" y="3298">0.1U</text><text class="c" x="-1167" y="3298">C545</text><text class="c" x="-1126" y="3320">0.1U</text><text class="c" x="-1167" y="3320">C546</text>
<text class="c" x="-1091" y="3577">0.1U</text><text class="c" x="-1130" y="3578">C548</text><text class="c" x="-1181" y="3574">120R</text><text class="c" x="-1217.500" y="3569">L555</text>
<text class="c" x="-2452" y="1298">R570</text><text class="c" x="-2452" y="1334.600">R571</text><text class="c" x="-2452" y="1365">R572</text><text class="c" x="-2452" y="1401">R573</text><text class="c" x="-2493" y="1305.500">4K7</text><text class="c" x="-2493" y="1341.800">4K7</text><text class="c" x="-2493" y="1371.900">4K7</text><text class="c" x="-2493" y="1406.600">4K7</text><text class="c" x="-2367" y="1293">I2S_BCK</text><text class="c" x="-2366" y="1328.500">I2S_MCK</text><text class="c" x="-2367" y="1365">CFG-PWM1</text><text class="c" x="-2373" y="1393">PWM_0</text>
<text class="c" x="-2575" y="379.500">C522</text><text class="c" x="-2574" y="427">0.1U</text>
<text class="c" x="-1126" y="2433.600">R522</text><text class="c" x="-1126" y="2456.500">R523</text><text class="c" x="-1126" y="2481">R524</text><text class="c" x="-1127" y="2444.500">4K7</text><text class="c" x="-1127" y="2467.700">4K7</text><text class="c" x="-1127" y="2492.700">4K7</text>
<text class="c" x="-1714" y="2327">R521</text><text class="c" x="-1715" y="2338">4K7</text><text class="c" x="-1745" y="2252.700">R527</text><text class="c" x="-1747" y="2275.700">4K7</text><text class="c" x="-1775" y="2287">/NC</text><text class="c" x="-1847" y="2257.300">R528</text><text class="c" x="-1848" y="2275.700">10K</text><text class="c" x="-1847" y="2291.800">NC</text>
<text class="c" x="-1721" y="2955">C504</text><text class="c" x="-1712" y="2995">2U2</text><text class="c" x="-1705" y="3017.400">0.1U</text><text class="c" x="-1751" y="3019">C554</text>
<text class="c" x="-1968" y="2932">C505</text><text class="c" x="-1953" y="2972">2U2</text><text class="c" x="-1938" y="3010">0.1U</text><text class="c" x="-1988" y="3010">C560</text><text class="c" x="-1944" y="3044">0.1U</text><text class="c" x="-1993" y="3045">C559</text><text class="c" x="-1944" y="3070.500">0.1U</text><text class="c" x="-1993" y="3071">C558</text><text class="c" x="-1944" y="3097">0.1U</text><text class="c" x="-1993" y="3098">C557</text><text class="c" x="-1944" y="3123.500">0.1U</text><text class="c" x="-1993" y="3125">C555</text><text class="c" x="-1944" y="3150">0.1U</text><text class="c" x="-1993" y="3151">C556</text>
<text class="c" x="-1688" y="3451">2U2</text><text class="c" x="-1737" y="3452.600">C565</text><text class="c" x="-1735" y="3470.500">C564</text><text class="c" x="-1723" y="3482.700">0.1U</text><text class="c" x="-1737" y="3508">C563</text><text class="c" x="-1725" y="3520.700">0.1U</text><text class="c" x="-1735" y="3542">C562</text><text class="c" x="-1725" y="3555">0.1U</text><text class="c" x="-1716" y="3819.600">C561</text><text class="c" x="-1700" y="3859">0.1U</text>
<text class="c" x="-1937" y="3416">C506</text><text class="c" x="-1944" y="3445">2U2</text><text class="c" x="-1933" y="3481">0.1U</text><text class="c" x="-1982" y="3483">C571</text><text class="c" x="-1936" y="3516">0.1U</text><text class="c" x="-1982" y="3516">C570</text><text class="c" x="-1936" y="3542">0.1U</text><text class="c" x="-1982" y="3542">C569</text><text class="c" x="-1936" y="3568">0.1U</text><text class="c" x="-1982" y="3568">C568</text><text class="c" x="-1936" y="3595">0.1U</text><text class="c" x="-1982" y="3596">C566</text>
</g>
<!-- rotated +90 -->
<g transform="rotate(90)">
<text x="2130" y="-823">TU1_IF-_IN</text><text x="2130" y="-834.500">TU1_IF+_IN</text><text x="2102" y="-1088">DIM_OUT</text>
<text class="c" x="2450" y="-849">C5A3</text><text class="c" x="2450" y="-881">C5A2</text><text class="c" x="2450" y="-903">C5A1</text><text class="c" x="2450" y="-933.400">C5A0</text><text class="c" x="2506" y="-852">22P</text><text class="c" x="2506" y="-885">22P</text><text class="c" x="2506" y="-913">22P</text><text class="c" x="2506" y="-938.500">22P</text>
</g>

<!-- Title block -->
<path fill="none" stroke="#888" stroke-width="1.500" d="M1785.500 2437.300H3926M1785.500 2437.300V2749M1785.500 2488H2643.600M1785.500 2542H2643.600M1785.500 2596H2643.600M1785.500 2650H2643.600M1785.500 2686.300H2643.600M2643.600 2437.300V2749M2643.600 2497.300H3226.600M2643.600 2596H3226.600M3226.600 2650H3926M3785.500 2650V2749M3650.800 2695H3785.500"/>
<path fill="none" stroke="#999" d="M1930 2437.300V2686.300M2038 2437.300V2686.300M2110 2437.300V2686.300M2487.600 2437.300V2686.300M3226.600 2437.300V2749"/>
<path fill="none" stroke="#aaa" stroke-width="1.500" stroke-dasharray="5 3" d="M2643.600 2541H3226.600"/>
<path stroke="#333" stroke-width="1.500" d="M1785 2749H3926"/>
<g>
<text class="f b" style="font-size:25px" x="1809" y="2472">...</text><text class="f b" style="font-size:24px" x="1941.500" y="2476">DD-MM</text><text class="f b" style="font-size:25px" x="2062" y="2477">...</text><text class="f b" style="font-size:25px" x="2144" y="2473">...</text><text class="f b" style="font-size:25px" x="2534" y="2479">...</text>
<text class="f b" style="font-size:25px" x="1812" y="2525">...</text><text class="f b" style="font-size:24px" x="1941.500" y="2524">DD-MM</text><text class="f b" style="font-size:25px" x="2062" y="2526">...</text><text class="f b" style="font-size:25px" x="2144" y="2524">...</text><text class="f b" style="font-size:25px" x="2537" y="2528">...</text>
<text class="f b" style="font-size:25px" x="1812" y="2582">...</text><text class="f b" style="font-size:24px" x="1941.500" y="2584">DD-MM</text><text class="f b" style="font-size:25px" x="2062" y="2586">...</text><text class="f b" style="font-size:25px" x="2146" y="2586">...</text><text class="f b" style="font-size:25px" x="2540" y="2586">...</text>
<text class="f b" style="font-size:25px" x="1812" y="2642">...</text><text class="f b" style="font-size:24px" x="1941.500" y="2632">DD-MM</text><text class="f b" style="font-size:25px" x="2062" y="2639">...</text><text class="f b" style="font-size:25px" x="2148.600" y="2639">...</text><text class="f b" style="font-size:25px" x="2540" y="2639">...</text>
<text class="f b" style="font-size:25px" x="1802.500" y="2675">Index-Lab</text><text class="f b" style="font-size:25px" x="1943" y="2675">DATE</text><text class="f b" style="font-size:25px" x="2029.400" y="2675" textLength="72" lengthAdjust="spacingAndGlyphs">NAME</text><text class="f b" style="font-size:25px" x="2121.600" y="2675">DESCRIPTION</text><text class="f b" style="font-size:25px" x="2518.800" y="2675" textLength="114" lengthAdjust="spacingAndGlyphs">Last modif</text>
<text class="f" style="font-size:30px" x="2659" y="2479">SBU :</text><text class="f" style="font-size:30px" x="2659" y="2529">TCLNO:</text><text class="f" style="font-size:25px" x="2648" y="2584">...............</text><text class="f" style="font-size:38px" x="2794" y="2641">DESIGNATION</text><text class="f" style="font-size:25px" x="2856" y="2711">.............</text>
<text class="f b" style="font-size:116px;font-style:italic;fill:#8e8e8e" x="3435" y="2518">TCL</text>
<text class="f" style="font-size:20px" x="3279" y="2567">ADDRESS1</text><text class="f" style="font-size:20px" x="3275" y="2590">ADDRESS2</text><text class="f" style="font-size:20px" x="3276" y="2615">ADDRESS3</text><text class="f" style="font-size:20px" x="3273.400" y="2639">TELEPHONE</text>
<text class="f" style="font-size:23px" x="3287.600" y="2671">DRAWN</text><text class="f" style="font-size:23px" x="3503" y="2675">CHECKED</text><text class="f" style="font-size:23px" x="3658" y="2680">PAGE:</text>
<text class="f" style="font-size:23px" x="3228" y="2708">ON:</text><text class="f" style="font-size:23px" x="3476" y="2707">ON:</text><text class="f" style="font-size:16px" x="3523" y="2705">DD-MM-YY</text><text class="f" style="font-size:23px" x="3228" y="2737">BY:</text><text class="f" style="font-size:23px" x="3476" y="2734">BY:</text><text class="f" style="font-size:16px" x="3527" y="2737">____</text><text class="f" style="font-size:23px" x="3658" y="2730">OF :</text>
<text class="f b" style="font-size:50px" x="1860.600" y="2738">Last saved :</text><text class="f" style="font-size:30px" x="2158.500" y="2730">4-14-2009_15:30</text>
<text class="f" style="font-size:13px" x="3775.600" y="2796">FORMAT DIN A1</text>
</g>
</svg>

<!-- P502 pin number columns -->
<div class="p" style="left:1913px;width:40px;top:161px;font-size:12px;line-height:23.98px;text-align:right">39
37
35
33
31
29
27
25
23
21
19
17
15
13
11
9
7
5
3
1</div>
<div class="p" style="left:2043px;top:161px;font-size:12px;line-height:23.98px">40
38
36
34
32
30
28
26
24
22
20
18
16
14
12
10
8
6
4
2</div>

<!-- U501 left -->
<div class="p" style="left:480px;width:31.300px;top:1219.500px;font-size:9.500px;line-height:11.980px;text-align:right">1
2
3
4
5
6
7
8
9
10
11
12
13
14
15
16
17
18
19
20
21
22
23
24
25
26
27
28
29
30
31
32
33
34
35
36
37
38
39
40
41
42
43
44
45
46
47
48
49
50
51
52
53
54</div>
<div class="p" style="left:523.500px;top:1225px;line-height:11.980px">IRIN
CEC
HWRESET
HOTPLUGA
RXACKN
RXACKP
RXA0N
RXA0P
AVDD_33_1
RXA1N
RXA1P
DDCDA_DA
RXA2N
RXA2P
DDCDA_CK
ARC
NC1
NC2
NC3
NC4
NC5
NC6
NC7
VDDC1
HSYNC0
BIN0P
SOGIN0
GIN0P
GIN0M
RIN0P
VSYNC0
AVDD_126
AVDD_25
BIN1P
SOGIN1
GIN1P
GIN1M
RIN1P
AVDD_33_2
CVBS4
CVBS3
CVBS2
CVBS1
CVBS0
VCOM
CVBSOUT0
AUL0
AUR0
AUL1
AUR1
GND1
AUVRP
AUVAG
AVDD_AU25</div>
<!-- U501 right -->
<div class="p" style="left:1340.600px;top:1218.500px;font-size:9.500px;line-height:11.990px">162
161
160
159
158
157
156
155
154
153
152
151
150
149
148
147
146
145
144
143
142
141
140
139
138
137
136
135
134
133
132
131
130
129
128
127
126
125
124
123
122
121
120
119
118
117
116
115
114
113
112
111
110
109</div>
<div class="p" style="left:1226.800px;width:100px;top:1224px;line-height:11.990px;text-align:right">DVDD_DDR
DQM[0]
DQS[0]
AVDD_DDR4
NC15
NC14
MDATA[7]
MDATA[6]
MDATA[5]
AVDD_DDR3
MDATA[4]
MDATA[3]
MDATA[2]
MDATA[1]
AVDD_DDR2
MDATA[0]
WEZ
CASZ
RASZ
BADR[0]
AVDD_DDR1
BADR[1]
MADR[10]
MADR[0]
MADR[1]
MADR[2]
MADR[3]
NC13
NC12
VDDC4
PWM1
PWM0
VDDP2
I2S_OUT_MUTE
I2S_IN_BCK
I2S_IN_SD
I2S_IN_WS
AVDD_LPLL
AVDD_MOD2
VDDC3
LVB0M
LVB0P
LVB1M
LVB1P
LVB2M
LVB2P
LVBCKM
LVBCKP
LVB3M
LVB3P
LVB4M
LVB4P
LVA0M
LVA0P</div>
<!-- U501 top (rotated) -->
<div class="p rt" style="left:587.600px;top:1128px;font-size:9.500px;line-height:12.020px">217
216
215
214
213
212
211
210
209
208
207
206
205
204
203
202
201
200
199
198
197
196
195
194
193
192
191
190
189
188
187
186
185
184
183
182
181
180
179
178
177
176
175
174
173
172
171
170
169
168
167
166
165
164
163</div>
<div class="p rt" style="left:594.600px;top:1241.600px;width:100px;line-height:12.020px;text-align:right">E-PAD
GPIO9
GPIO8
GPIO7
GPIO6
DDCA_DA
DDCA_CK
GPIO10
SAR2
SAR1
SAR0
SCZ
SDO
SDI
SCK
GND3
BYPASS
AVDD_ALIVE
USB1_DP
USB1_DM
USB0_DP
USB0_DM
GND2
DDCR_CK
VDDP3
DDCR_DA
VDDC5
MADR[4]
MADR[5]
MADR[6]
MADR[7]
MADR[8]
AVDD_DDR8
MADR[9]
MADR[11]
MADR[12]
MCLKE
NC16
MCLK
AVDD_DDR7
MCLKZ
MDATA[15]
AVDD_DDR6
MDATA[14]
MVREF
MDATA[13]
MDATA[12]
MDATA[11]
MDATA[10]
AVDD_DDR5
MDATA[9]
MDATA[8]
DQS[1]
DQM[1]
AVDD_MEMPLL</div>
<!-- U501 bottom (rotated) -->
<div class="p rt" style="left:587.600px;top:1971px;width:16px;font-size:9.500px;line-height:12.020px;text-align:center">55
56
57
58
59
60
61
62
63
64
65
66
67
68
69
70
71
72
73
74
75
76
77
78
79
80
81
82
83
84
85
86
87
88
89
90
91
92
93
94
95
96
97
98
99
100
101
102
103
104
105
106
107
108</div>
<div class="p rt" style="left:594.600px;top:1944.500px;line-height:12.020px">AUL2
AUR2
AUL3
AUR3
AUL4
AUR4
AVDD_AU33
AUOUTL1
AUOUTR1
AUOUTL0
AUOUTR0
NC8
NC9
NC10
XIN
XOUT
AVDD_DMPLL
AVDD_REF
PGA_COM
VIFM
VIFP
AVDD_PGA
SIFP
SIFM
TAGC
I2S_OUT_WS
I2S_OUT_SD
GPIO24
GPIO25
SPDIFI
SPDIFO
VDDC2
VDDP1
GPIO28
I2S_OUT_MCK
I2S_OUT_BCK
GPIO36
GPIO37
GPIO38
GPIO45
GPIO47
PWM2
NC11
LVA4P
LVA4M
LVA3P
LVA3M
LVACKP
LVACKM
LVA2P
LVA2M
LVA1P
LVA1M
AVDD_MOD1</div>
<!-- U502 -->
<div class="p" style="left:1809.500px;width:40px;top:1129.300px;line-height:12px;text-align:right">49


29
30
31
32
35
36
37
38
39
40
28
41
42



45
46
44


24
23
22
21


16
51


20
47


26
27</div>
<div class="p" style="left:1861.700px;top:1134.300px;line-height:12px">VREF


A0
A1
A2
A3
A4
A5
A6
A7
A8
A9
A10/AP
A11
A12/NC7



CK
<span class="o">CK</span>
CKE


<span class="o">CS</span>
<span class="o">RAS</span>
<span class="o">CAS</span>
<span class="o">WE</span>


LDQS
UDQS


LDM
UDM


BA0
BA1</div>
<div class="p" style="left:1868.800px;width:100px;top:1134.300px;line-height:12px;text-align:right">DQ0
DQ1
DQ2
DQ3
DQ4
DQ5
DQ6
DQ7
DQ8
DQ9
DQ10
DQ11
DQ12
DQ13
DQ14
DQ15

NC
NC1
NC2
NC3

NC4
NC5
NC6

VDD
VDD1
VDD2
VDDQ
VDDQ1
VDDQ2
VDDQ3
VDDQ4

VSS
VSS2
VSS1
VSSQ1
VSSQ2
VSSQ
VSSQ3
VSSQ4</div>
<div class="p" style="left:1981px;top:1129.300px;line-height:12px">2
4
5
7
8
10
11
13
54
56
57
59
60
62
63
65

14
17
19
25

43
50
53

1
18
33
3
9
15
55
61

34
48
66
6
12
52
58
64</div>
</div></body></html>
